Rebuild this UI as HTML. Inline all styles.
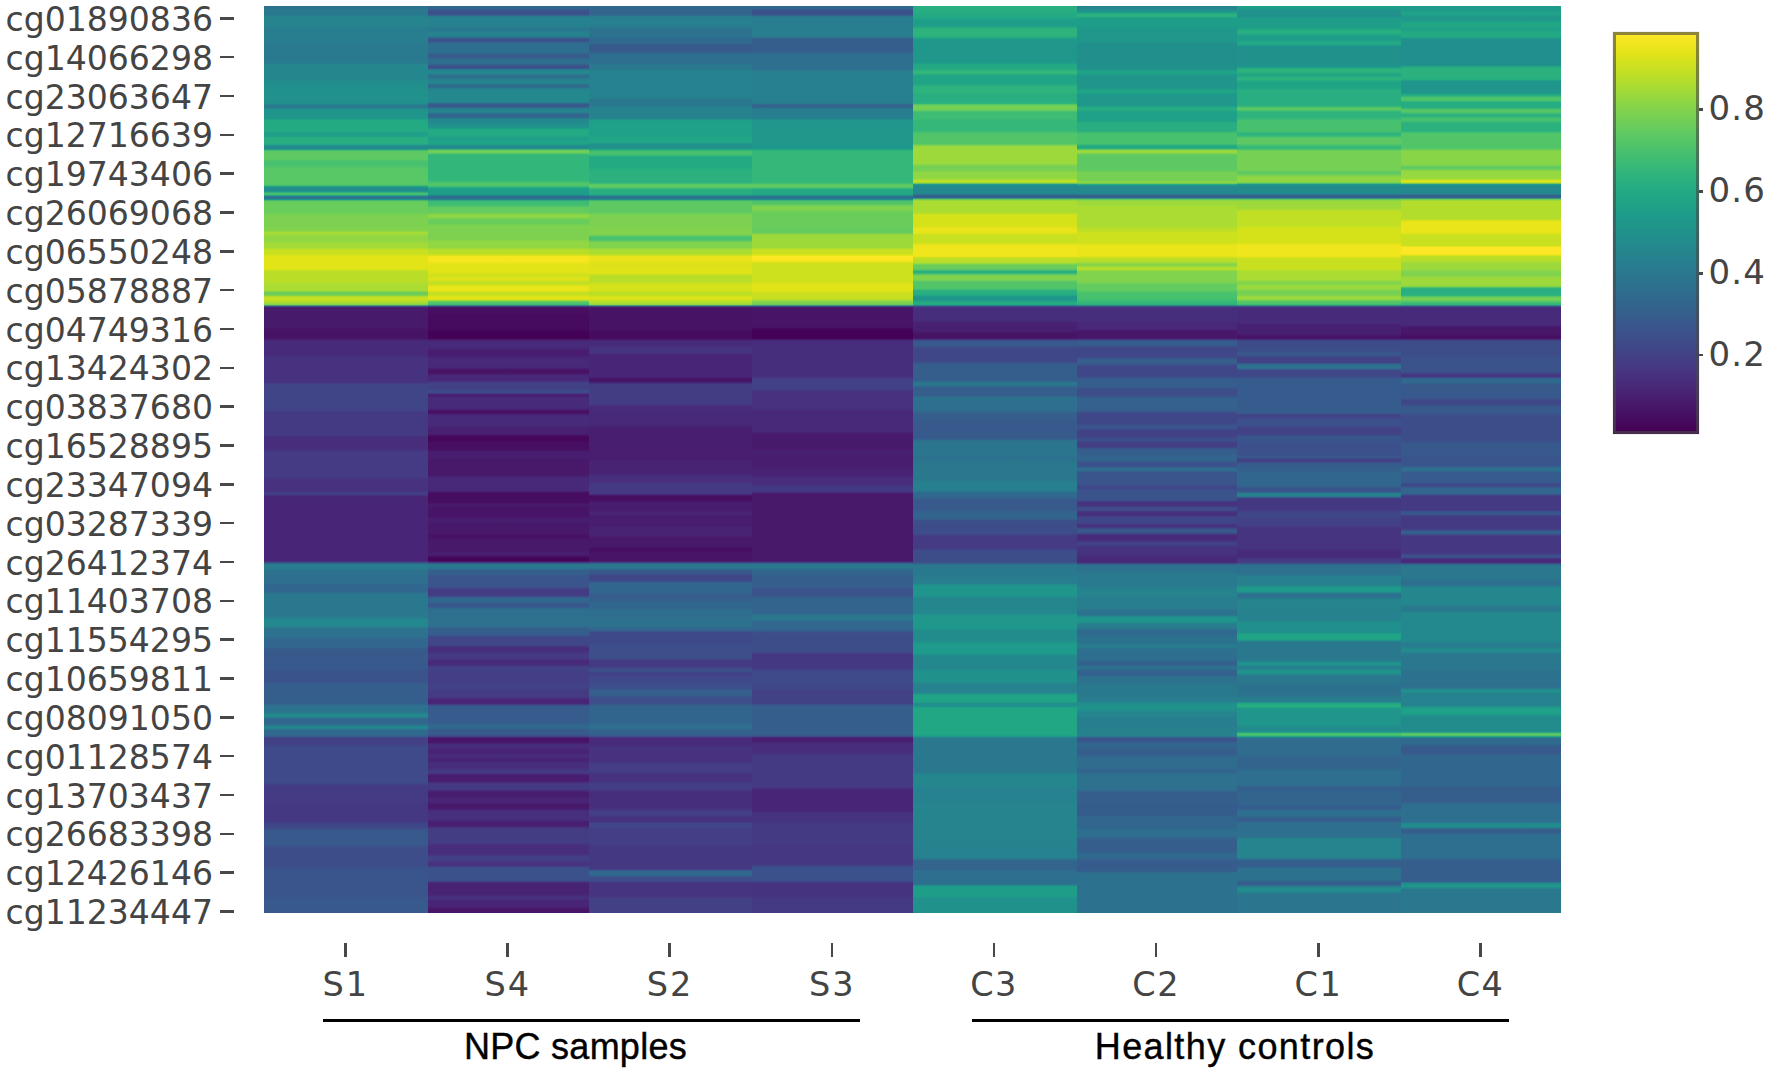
<!DOCTYPE html>
<html><head><meta charset="utf-8"><title>Heatmap</title>
<style>
html,body{margin:0;padding:0;background:#fff;}
body{width:1770px;height:1072px;position:relative;overflow:hidden;font-family:"DejaVu Sans","Liberation Sans",sans-serif;color:#444;}
.hc{position:absolute;top:6.3px;height:906.3px;}
.yl{position:absolute;left:0;width:213px;text-align:right;font-size:33.1px;line-height:40px;height:40px;white-space:nowrap;letter-spacing:0;}
.yt{position:absolute;left:219.5px;width:14.5px;height:2.6px;background:#484848;}
.xt{position:absolute;top:943.3px;width:2.6px;height:14px;background:#484848;}
.xl{position:absolute;top:964.5px;width:120px;text-align:center;font-size:33.5px;line-height:40px;letter-spacing:1.5px;}
.ul{position:absolute;top:1018.6px;height:3px;background:#000;}
.gl{position:absolute;top:1023px;font-family:"Liberation Sans",sans-serif;font-size:36px;line-height:48px;color:#000;white-space:nowrap;text-align:center;-webkit-text-stroke:0.4px #000;}
.cb{position:absolute;left:1613px;top:32px;width:79.5px;height:395.5px;border:3px solid rgba(72,72,72,.62);background:linear-gradient(to top,#440154 3.0px,#471365 22.8px,#482475 42.6px,#463480 62.3px,#414487 82.1px,#3b528b 101.9px,#355f8d 121.6px,#2f6c8e 141.4px,#2a788e 161.2px,#25848e 181.0px,#21918c 200.8px,#1e9c89 220.5px,#22a884 240.3px,#2fb47c 260.1px,#44bf70 279.8px,#5ec962 299.6px,#7ad151 319.4px,#9bd93c 339.2px,#bddf26 358.9px,#dfe318 378.7px,#fde725 398.5px);background-origin:border-box;background-repeat:no-repeat;box-shadow:0 0 1px rgba(75,75,75,.45);}
.ct{position:absolute;left:1698.5px;width:4px;height:2.6px;background:#484848;}
.cl{position:absolute;left:1708.5px;font-size:34px;line-height:40px;letter-spacing:1.2px;}
</style></head><body>

<div class="hc" style="left:264.30px;width:163.90px;background:linear-gradient(to bottom,#2c728e 0.0px,#2c738e 1.5px,#2a768e 3.0px,#2a788e 4.5px,#2a788e 6.0px,#2a788e 7.5px,#287d8e 9.0px,#25838e 10.5px,#25848e 12.0px,#25848e 13.5px,#25848e 15.0px,#25848e 16.5px,#25848e 18.0px,#25848e 19.5px,#26828e 21.0px,#287d8e 22.5px,#287d8e 24.0px,#287d8e 25.5px,#287d8e 27.0px,#287d8e 28.5px,#287d8e 30.0px,#287d8e 31.5px,#287d8e 33.0px,#287d8e 34.5px,#287c8e 36.0px,#297b8e 37.5px,#297a8e 39.0px,#297a8e 40.5px,#297a8e 42.0px,#297a8e 43.5px,#297a8e 45.0px,#297a8e 46.5px,#297a8e 48.0px,#297a8e 49.5px,#297a8e 51.0px,#297a8e 52.5px,#297a8e 54.0px,#297a8e 55.5px,#287d8e 57.0px,#25848e 58.5px,#24878e 60.0px,#24878e 61.5px,#24878e 63.0px,#24878e 64.5px,#24878e 66.0px,#24878e 67.5px,#24878e 69.0px,#24878e 70.5px,#24878e 72.0px,#24878e 73.5px,#228c8d 75.0px,#218e8d 76.5px,#218f8d 78.0px,#218f8d 79.5px,#218f8d 81.0px,#218f8d 82.5px,#21918c 84.0px,#21918c 85.5px,#21918c 87.0px,#21918c 88.5px,#21918c 90.0px,#21918c 91.5px,#21918c 93.0px,#21918c 94.5px,#21918c 96.0px,#228d8d 97.5px,#287c8e 99.0px,#2a788e 100.5px,#287d8e 102.0px,#21918c 103.5px,#1f958b 105.0px,#1f958b 106.5px,#1f958b 108.0px,#1f958b 109.5px,#1f958b 111.0px,#1f998a 112.5px,#21a685 114.0px,#24aa83 115.5px,#24aa83 117.0px,#24aa83 118.5px,#24aa83 120.0px,#24aa83 121.5px,#24aa83 123.0px,#23a983 124.5px,#21a585 126.0px,#1f9e89 127.5px,#1f9e89 129.0px,#20a386 130.5px,#27ad81 132.0px,#28ae80 133.5px,#28ae80 135.0px,#28ae80 136.5px,#25ac82 138.0px,#1f948c 139.5px,#25858e 141.0px,#23888e 142.5px,#2cb17e 144.0px,#5cc863 145.5px,#5ec962 147.0px,#5ec962 148.5px,#5ec962 150.0px,#5ec962 151.5px,#5cc863 153.0px,#50c46a 154.5px,#48c16e 156.0px,#48c16e 157.5px,#48c16e 159.0px,#4ec36b 160.5px,#56c667 162.0px,#58c765 163.5px,#58c765 165.0px,#58c765 166.5px,#58c765 168.0px,#58c765 169.5px,#58c765 171.0px,#58c765 172.5px,#58c765 174.0px,#58c765 175.5px,#58c765 177.0px,#56c667 178.5px,#2db27d 180.0px,#21908d 181.5px,#228c8d 183.0px,#228d8d 184.5px,#1fa287 186.0px,#4cc26c 187.5px,#35b779 189.0px,#297b8e 190.5px,#2e6d8e 192.0px,#20928c 193.5px,#5cc863 195.0px,#69cd5b 196.5px,#69cd5b 198.0px,#69cd5b 199.5px,#69cd5b 201.0px,#69cd5b 202.5px,#69cd5b 204.0px,#69cd5b 205.5px,#6ccd5a 207.0px,#77d153 208.5px,#7cd250 210.0px,#7cd250 211.5px,#7cd250 213.0px,#7cd250 214.5px,#7cd250 216.0px,#7cd250 217.5px,#7cd250 219.0px,#7cd250 220.5px,#81d34d 222.0px,#81d34d 223.5px,#89d548 225.0px,#a5db36 226.5px,#a5db36 228.0px,#95d840 229.5px,#90d743 231.0px,#90d743 232.5px,#90d743 234.0px,#93d741 235.5px,#a0da39 237.0px,#a5db36 238.5px,#a5db36 240.0px,#a5db36 241.5px,#bade28 243.0px,#c8e020 244.5px,#c8e020 246.0px,#c8e020 247.5px,#d2e21b 249.0px,#e2e418 250.5px,#e2e418 252.0px,#e2e418 253.5px,#e2e418 255.0px,#e2e418 256.5px,#e2e418 258.0px,#e2e418 259.5px,#e2e418 261.0px,#e2e418 262.5px,#d2e21b 264.0px,#bade28 265.5px,#bade28 267.0px,#bade28 268.5px,#bade28 270.0px,#bade28 271.5px,#bade28 273.0px,#bade28 274.5px,#b8de29 276.0px,#b0dd2f 277.5px,#aadc32 279.0px,#aadc32 280.5px,#aadc32 282.0px,#aadc32 283.5px,#9dd93b 285.0px,#6ece58 286.5px,#65cb5e 288.0px,#86d549 289.5px,#c2df23 291.0px,#c8e020 292.5px,#c5e021 294.0px,#b2dd2d 295.5px,#a5db36 297.0px,#86d549 298.5px,#2d718e 300.0px,#481d6f 301.5px,#481a6c 303.0px,#481a6c 304.5px,#481a6c 306.0px,#481a6c 307.5px,#481a6c 309.0px,#481a6c 310.5px,#481a6c 312.0px,#481a6c 313.5px,#481a6c 315.0px,#481a6c 316.5px,#481a6c 318.0px,#481a6c 319.5px,#481a6c 321.0px,#481668 322.5px,#471365 324.0px,#471365 325.5px,#471365 327.0px,#471365 328.5px,#471365 330.0px,#471365 331.5px,#481769 333.0px,#482677 334.5px,#472a7a 336.0px,#472a7a 337.5px,#472a7a 339.0px,#472a7a 340.5px,#472a7a 342.0px,#472a7a 343.5px,#472a7a 345.0px,#472a7a 346.5px,#472a7a 348.0px,#472c7a 349.5px,#46307e 351.0px,#46327e 352.5px,#46327e 354.0px,#46327e 355.5px,#46327e 357.0px,#46327e 358.5px,#46327e 360.0px,#46327e 361.5px,#46327e 363.0px,#46327e 364.5px,#46327e 366.0px,#46327e 367.5px,#46327e 369.0px,#46327e 370.5px,#46327e 372.0px,#46327e 373.5px,#46327e 375.0px,#463480 376.5px,#424186 378.0px,#404588 379.5px,#404588 381.0px,#404588 382.5px,#404588 384.0px,#404588 385.5px,#404588 387.0px,#404588 388.5px,#404588 390.0px,#404588 391.5px,#404588 393.0px,#404588 394.5px,#404588 396.0px,#404588 397.5px,#404588 399.0px,#404588 400.5px,#404588 402.0px,#414487 403.5px,#424086 405.0px,#443a83 406.5px,#443983 408.0px,#443983 409.5px,#443983 411.0px,#443983 412.5px,#443983 414.0px,#443983 415.5px,#443983 417.0px,#443983 418.5px,#443983 420.0px,#443983 421.5px,#443983 423.0px,#443983 424.5px,#443983 426.0px,#443983 427.5px,#443983 429.0px,#46327e 430.5px,#472d7b 432.0px,#472d7b 433.5px,#472d7b 435.0px,#472d7b 436.5px,#472d7b 438.0px,#472d7b 439.5px,#472d7b 441.0px,#472d7b 442.5px,#46327e 444.0px,#443a83 445.5px,#443b84 447.0px,#443b84 448.5px,#443b84 450.0px,#443b84 451.5px,#443b84 453.0px,#443b84 454.5px,#443b84 456.0px,#443b84 457.5px,#443b84 459.0px,#443b84 460.5px,#443b84 462.0px,#443b84 463.5px,#443b84 465.0px,#443b84 466.5px,#443b84 468.0px,#443b84 469.5px,#443a83 471.0px,#453581 472.5px,#46327e 474.0px,#46327e 475.5px,#46327e 477.0px,#46327e 478.5px,#46327e 480.0px,#46327e 481.5px,#46327e 483.0px,#46327e 484.5px,#453882 486.0px,#424086 487.5px,#453781 489.0px,#482878 490.5px,#482576 492.0px,#482576 493.5px,#482576 495.0px,#482576 496.5px,#482576 498.0px,#482576 499.5px,#482576 501.0px,#482576 502.5px,#482576 504.0px,#482576 505.5px,#482576 507.0px,#482576 508.5px,#482576 510.0px,#482576 511.5px,#482576 513.0px,#482576 514.5px,#482576 516.0px,#482576 517.5px,#482576 519.0px,#482576 520.5px,#482576 522.0px,#482576 523.5px,#482576 525.0px,#482576 526.5px,#482576 528.0px,#482576 529.5px,#482576 531.0px,#482576 532.5px,#482576 534.0px,#482576 535.5px,#482576 537.0px,#482576 538.5px,#482576 540.0px,#482576 541.5px,#482576 543.0px,#482576 544.5px,#482576 546.0px,#482576 547.5px,#482576 549.0px,#482576 550.5px,#482576 552.0px,#482576 553.5px,#482878 555.0px,#3e4a89 556.5px,#29798e 558.0px,#287d8e 559.5px,#287d8e 561.0px,#297b8e 562.5px,#2b748e 564.0px,#2c728e 565.5px,#2c728e 567.0px,#2c728e 568.5px,#2e6f8e 570.0px,#2e6e8e 571.5px,#2e6e8e 573.0px,#2e6e8e 574.5px,#2e6e8e 576.0px,#2e6d8e 577.5px,#31688e 579.0px,#31668e 580.5px,#31668e 582.0px,#31668e 583.5px,#31668e 585.0px,#2e6d8e 586.5px,#2a778e 588.0px,#2a788e 589.5px,#2a788e 591.0px,#2a788e 592.5px,#2a788e 594.0px,#2a788e 595.5px,#2a788e 597.0px,#2a788e 598.5px,#2a788e 600.0px,#2a788e 601.5px,#2a788e 603.0px,#2a788e 604.5px,#2a788e 606.0px,#2a788e 607.5px,#2a788e 609.0px,#2a788e 610.5px,#277f8e 612.0px,#23888e 613.5px,#23898e 615.0px,#23898e 616.5px,#23898e 618.0px,#23898e 619.5px,#26818e 621.0px,#2b748e 622.5px,#2c728e 624.0px,#2c728e 625.5px,#2c728e 627.0px,#2c728e 628.5px,#2c728e 630.0px,#2e6e8e 631.5px,#31678e 633.0px,#31668e 634.5px,#31668e 636.0px,#31668e 637.5px,#31668e 639.0px,#31668e 640.5px,#34618d 642.0px,#375a8c 643.5px,#38598c 645.0px,#38598c 646.5px,#38598c 648.0px,#38598c 649.5px,#38598c 651.0px,#38598c 652.5px,#38598c 654.0px,#38598c 655.5px,#38598c 657.0px,#38598c 658.5px,#38598c 660.0px,#38598c 661.5px,#38588c 663.0px,#3a548c 664.5px,#3a538b 666.0px,#3a538b 667.5px,#3a538b 669.0px,#3a538b 670.5px,#3a538b 672.0px,#3a538b 673.5px,#3a538b 675.0px,#39558c 676.5px,#365d8d 678.0px,#355e8d 679.5px,#355e8d 681.0px,#355e8d 682.5px,#355e8d 684.0px,#355e8d 685.5px,#355e8d 687.0px,#355e8d 688.5px,#355e8d 690.0px,#355e8d 691.5px,#355e8d 693.0px,#355e8d 694.5px,#355e8d 696.0px,#34608d 697.5px,#2f6c8e 699.0px,#2c728e 700.5px,#2c728e 702.0px,#2c728e 703.5px,#2c738e 705.0px,#2a778e 706.5px,#24878e 708.0px,#228c8d 709.5px,#25858e 711.0px,#2e6d8e 712.5px,#31668e 714.0px,#31668e 715.5px,#31668e 717.0px,#2f6c8e 718.5px,#26828e 720.0px,#24868e 721.5px,#287c8e 723.0px,#2f6b8e 724.5px,#30698e 726.0px,#30698e 727.5px,#31688e 729.0px,#375b8d 730.5px,#414487 732.0px,#424186 733.5px,#424186 735.0px,#424186 736.5px,#424186 738.0px,#404588 739.5px,#3e4989 741.0px,#3e4a89 742.5px,#3e4a89 744.0px,#3e4a89 745.5px,#3e4a89 747.0px,#3e4a89 748.5px,#3e4a89 750.0px,#3e4a89 751.5px,#3e4a89 753.0px,#3e4a89 754.5px,#3e4a89 756.0px,#3e4a89 757.5px,#3e4a89 759.0px,#3e4a89 760.5px,#3e4a89 762.0px,#3e4a89 763.5px,#3e4a89 765.0px,#3e4a89 766.5px,#3e4a89 768.0px,#3e4a89 769.5px,#3e4a89 771.0px,#3e4a89 772.5px,#3e4a89 774.0px,#3e4a89 775.5px,#3e4989 777.0px,#424186 778.5px,#443b84 780.0px,#443b84 781.5px,#443b84 783.0px,#443b84 784.5px,#443b84 786.0px,#443b84 787.5px,#443b84 789.0px,#443b84 790.5px,#443b84 792.0px,#443b84 793.5px,#443b84 795.0px,#443a83 796.5px,#453882 798.0px,#453882 799.5px,#453882 801.0px,#453882 802.5px,#453882 804.0px,#453882 805.5px,#453882 807.0px,#453882 808.5px,#453882 810.0px,#453882 811.5px,#453882 813.0px,#453882 814.5px,#443a83 816.0px,#404588 817.5px,#3f4788 819.0px,#3f4788 820.5px,#3f4889 822.0px,#3b528b 823.5px,#38598c 825.0px,#38598c 826.5px,#38598c 828.0px,#38598c 829.5px,#38598c 831.0px,#38598c 832.5px,#38598c 834.0px,#38598c 835.5px,#38598c 837.0px,#38598c 838.5px,#3a548c 840.0px,#3d4e8a 841.5px,#3d4d8a 843.0px,#3d4d8a 844.5px,#3d4d8a 846.0px,#3d4d8a 847.5px,#3d4d8a 849.0px,#3d4d8a 850.5px,#3d4d8a 852.0px,#3d4d8a 853.5px,#3d4d8a 855.0px,#3d4d8a 856.5px,#3d4d8a 858.0px,#3d4d8a 859.5px,#3c4f8a 861.0px,#3a548c 862.5px,#39558c 864.0px,#39558c 865.5px,#39558c 867.0px,#39558c 868.5px,#39558c 870.0px,#39558c 871.5px,#39558c 873.0px,#39558c 874.5px,#39558c 876.0px,#39558c 877.5px,#39558c 879.0px,#39558c 880.5px,#39558c 882.0px,#39558c 883.5px,#39558c 885.0px,#39558c 886.5px,#39558c 888.0px,#39558c 889.5px,#39568c 891.0px,#38598c 892.5px,#38598c 894.0px,#38598c 895.5px,#38598c 897.0px,#38598c 898.5px,#38598c 900.0px,#38598c 901.5px,#38598c 903.0px,#38598c 904.5px,#38598c 906.0px,#38598c 907.5px)"></div>
<div class="hc" style="left:427.60px;width:161.50px;background:linear-gradient(to bottom,#31668e 0.0px,#31668e 1.5px,#33638d 3.0px,#3a548c 4.5px,#3c508b 6.0px,#3c508b 7.5px,#375a8c 9.0px,#297a8e 10.5px,#26828e 12.0px,#26828e 13.5px,#26828e 15.0px,#26828e 16.5px,#26828e 18.0px,#26828e 19.5px,#277e8e 21.0px,#2a788e 22.5px,#2a788e 24.0px,#277e8e 25.5px,#26828e 27.0px,#26828e 28.5px,#26828e 30.0px,#2d708e 31.5px,#3a538b 33.0px,#3b518b 34.5px,#365c8d 36.0px,#2e6d8e 37.5px,#2e6e8e 39.0px,#2e6e8e 40.5px,#2e6e8e 42.0px,#2e6e8e 43.5px,#2e6e8e 45.0px,#2e6d8e 46.5px,#34618d 48.0px,#38598c 49.5px,#375a8c 51.0px,#31668e 52.5px,#2e6e8e 54.0px,#2e6e8e 55.5px,#2e6e8e 57.0px,#33638d 58.5px,#3b528b 60.0px,#3b518b 61.5px,#31678e 63.0px,#24868e 64.5px,#23898e 66.0px,#25848e 67.5px,#2c728e 69.0px,#2e6e8e 70.5px,#2c718e 72.0px,#26818e 73.5px,#25848e 75.0px,#25848e 76.5px,#297a8e 78.0px,#2f6b8e 79.5px,#2f6b8e 81.0px,#287d8e 82.5px,#23898e 84.0px,#23898e 85.5px,#23898e 87.0px,#23898e 88.5px,#23898e 90.0px,#23898e 91.5px,#23898e 93.0px,#23898e 94.5px,#24868e 96.0px,#306a8e 97.5px,#39568c 99.0px,#38598c 100.5px,#2c738e 102.0px,#25838e 103.5px,#25848e 105.0px,#277f8e 106.5px,#30698e 108.0px,#32648e 109.5px,#31668e 111.0px,#297b8e 112.5px,#23898e 114.0px,#23898e 115.5px,#228b8d 117.0px,#21908d 118.5px,#21918c 120.0px,#1f958b 121.5px,#21a585 123.0px,#24aa83 124.5px,#24aa83 126.0px,#24aa83 127.5px,#23a983 129.0px,#21a585 130.5px,#1f9e89 132.0px,#1f9e89 133.5px,#1fa187 135.0px,#20a486 136.5px,#1fa287 138.0px,#21918c 139.5px,#25858e 141.0px,#20928c 142.5px,#54c568 144.0px,#75d054 145.5px,#67cc5c 147.0px,#3bbb75 148.5px,#32b67a 150.0px,#32b67a 151.5px,#32b67a 153.0px,#32b67a 154.5px,#32b67a 156.0px,#32b67a 157.5px,#32b67a 159.0px,#32b67a 160.5px,#32b67a 162.0px,#32b67a 163.5px,#32b67a 165.0px,#32b67a 166.5px,#32b67a 168.0px,#32b67a 169.5px,#32b67a 171.0px,#32b67a 172.5px,#32b67a 174.0px,#3dbc74 175.5px,#50c46a 177.0px,#52c569 178.5px,#4ec36b 180.0px,#26ad81 181.5px,#1f9e89 183.0px,#1e9d89 184.5px,#1e9d89 186.0px,#1e9d89 187.5px,#20938c 189.0px,#2d708e 190.5px,#31688e 192.0px,#24878e 193.5px,#37b878 195.0px,#3fbc73 196.5px,#3fbc73 198.0px,#44bf70 199.5px,#5cc863 201.0px,#63cb5f 202.5px,#63cb5f 204.0px,#63cb5f 205.5px,#69cd5b 207.0px,#89d548 208.5px,#90d743 210.0px,#89d548 211.5px,#70cf57 213.0px,#69cd5b 214.5px,#69cd5b 216.0px,#69cd5b 217.5px,#77d153 219.0px,#81d34d 220.5px,#7cd250 222.0px,#7cd250 223.5px,#7cd250 225.0px,#7cd250 226.5px,#7cd250 228.0px,#7cd250 229.5px,#7cd250 231.0px,#7cd250 232.5px,#84d44b 234.0px,#8ed645 235.5px,#90d743 237.0px,#90d743 238.5px,#90d743 240.0px,#93d741 241.5px,#aadc32 243.0px,#b8de29 244.5px,#bade28 246.0px,#bade28 247.5px,#d0e11c 249.0px,#f4e61e 250.5px,#f6e620 252.0px,#f6e620 253.5px,#f6e620 255.0px,#efe51c 256.5px,#e5e419 258.0px,#e2e418 259.5px,#e2e418 261.0px,#e2e418 262.5px,#e2e418 264.0px,#e2e418 265.5px,#dae319 267.0px,#d0e11c 268.5px,#d0e11c 270.0px,#d5e21a 271.5px,#e2e418 273.0px,#d5e21a 274.5px,#c2df23 276.0px,#c0df25 277.5px,#d0e11c 279.0px,#e7e419 280.5px,#eae51a 282.0px,#eae51a 283.5px,#e2e418 285.0px,#c8e020 286.5px,#c0df25 288.0px,#cde11d 289.5px,#e2e418 291.0px,#e2e418 292.5px,#cae11f 294.0px,#67cc5c 295.5px,#52c569 297.0px,#3fbc73 298.5px,#355f8d 300.0px,#471365 301.5px,#470e61 303.0px,#470e61 304.5px,#470e61 306.0px,#470d60 307.5px,#460b5e 309.0px,#460b5e 310.5px,#460b5e 312.0px,#460b5e 313.5px,#460b5e 315.0px,#460b5e 316.5px,#460b5e 318.0px,#460b5e 319.5px,#460b5e 321.0px,#460b5e 322.5px,#46085c 324.0px,#450457 325.5px,#440256 327.0px,#440256 328.5px,#440256 330.0px,#440256 331.5px,#460a5d 333.0px,#482475 334.5px,#472a7a 336.0px,#472a7a 337.5px,#472a7a 339.0px,#472a7a 340.5px,#482979 342.0px,#482071 343.5px,#481d6f 345.0px,#481d6f 346.5px,#481d6f 348.0px,#481f70 349.5px,#482576 351.0px,#482878 352.5px,#482878 354.0px,#482878 355.5px,#482878 357.0px,#482878 358.5px,#482878 360.0px,#482677 361.5px,#481b6d 363.0px,#471365 364.5px,#471365 366.0px,#481769 367.5px,#482475 369.0px,#482878 370.5px,#482878 372.0px,#482878 373.5px,#472c7a 375.0px,#433d84 376.5px,#424186 378.0px,#424186 379.5px,#424186 381.0px,#424186 382.5px,#404688 384.0px,#3d4d8a 385.5px,#404588 387.0px,#482374 388.5px,#481d6f 390.0px,#482878 391.5px,#472a7a 393.0px,#472a7a 394.5px,#472a7a 396.0px,#472a7a 397.5px,#472a7a 399.0px,#472a7a 400.5px,#472a7a 402.0px,#482071 403.5px,#471063 405.0px,#471063 406.5px,#481a6c 408.0px,#482979 409.5px,#472a7a 411.0px,#472a7a 412.5px,#472a7a 414.0px,#472a7a 415.5px,#472a7a 417.0px,#472a7a 418.5px,#482979 420.0px,#482374 421.5px,#482173 423.0px,#482071 424.5px,#482071 426.0px,#482071 427.5px,#48186a 429.0px,#46085c 430.5px,#46075a 432.0px,#46075a 433.5px,#46085c 435.0px,#470d60 436.5px,#470e61 438.0px,#470e61 439.5px,#470e61 441.0px,#470e61 442.5px,#471164 444.0px,#481b6d 445.5px,#481d6f 447.0px,#481d6f 448.5px,#481f70 450.0px,#481d6f 451.5px,#481a6c 453.0px,#48186a 454.5px,#48186a 456.0px,#48186a 457.5px,#48186a 459.0px,#48186a 460.5px,#48186a 462.0px,#48186a 463.5px,#48186a 465.0px,#48186a 466.5px,#48186a 468.0px,#481a6c 469.5px,#482374 471.0px,#482979 472.5px,#482979 474.0px,#482979 475.5px,#482979 477.0px,#482979 478.5px,#482979 480.0px,#482979 481.5px,#482979 483.0px,#482878 484.5px,#48186a 486.0px,#470d60 487.5px,#470d60 489.0px,#470d60 490.5px,#470d60 492.0px,#470d60 493.5px,#470d60 495.0px,#470e61 496.5px,#48186a 498.0px,#481b6d 499.5px,#481668 501.0px,#481467 502.5px,#481467 504.0px,#481467 505.5px,#481467 507.0px,#481467 508.5px,#481467 510.0px,#48186a 511.5px,#481f70 513.0px,#481f70 514.5px,#481b6d 516.0px,#48186a 517.5px,#48186a 519.0px,#48186a 520.5px,#48186a 522.0px,#48186a 523.5px,#48186a 525.0px,#48186a 526.5px,#481769 528.0px,#471164 529.5px,#471164 531.0px,#481467 532.5px,#48186a 534.0px,#48186a 535.5px,#48186a 537.0px,#48186a 538.5px,#48186a 540.0px,#48186a 541.5px,#48186a 543.0px,#48186a 544.5px,#481c6e 546.0px,#481f70 547.5px,#481d6f 549.0px,#471063 550.5px,#450559 552.0px,#450559 553.5px,#46075a 555.0px,#453781 556.5px,#2c728e 558.0px,#2a788e 559.5px,#2a788e 561.0px,#2c738e 562.5px,#33638d 564.0px,#355e8d 565.5px,#355e8d 567.0px,#365d8d 568.5px,#38588c 570.0px,#39558c 571.5px,#39558c 573.0px,#39558c 574.5px,#39558c 576.0px,#39558c 577.5px,#39558c 579.0px,#39558c 580.5px,#3e4c8a 582.0px,#433d84 583.5px,#443b84 585.0px,#443b84 586.5px,#443b84 588.0px,#433e85 589.5px,#39568c 591.0px,#31668e 592.5px,#31668e 594.0px,#31668e 595.5px,#34608d 597.0px,#39568c 598.5px,#39568c 600.0px,#355f8d 601.5px,#2e6d8e 603.0px,#2e6e8e 604.5px,#2e6e8e 606.0px,#2e6f8e 607.5px,#2d708e 609.0px,#2d718e 610.5px,#2d718e 612.0px,#2d718e 613.5px,#2d718e 615.0px,#2d718e 616.5px,#2d718e 618.0px,#2d718e 619.5px,#306a8e 621.0px,#355f8d 622.5px,#355e8d 624.0px,#355e8d 625.5px,#355e8d 627.0px,#365d8d 628.5px,#3c508b 630.0px,#3f4788 631.5px,#3f4788 633.0px,#3f4788 634.5px,#3f4788 636.0px,#3f4788 637.5px,#404688 639.0px,#453882 640.5px,#472e7c 642.0px,#472e7c 643.5px,#472e7c 645.0px,#46337f 646.5px,#443a83 648.0px,#443b84 649.5px,#443b84 651.0px,#453882 652.5px,#472e7c 654.0px,#472a7a 655.5px,#472a7a 657.0px,#472c7a 658.5px,#443983 660.0px,#424186 661.5px,#424186 663.0px,#424186 664.5px,#424086 666.0px,#433e85 667.5px,#433e85 669.0px,#433e85 670.5px,#433e85 672.0px,#433e85 673.5px,#433e85 675.0px,#423f85 676.5px,#424086 678.0px,#424186 679.5px,#424186 681.0px,#424186 682.5px,#433e85 684.0px,#443b84 685.5px,#443b84 687.0px,#443b84 688.5px,#443b84 690.0px,#453781 691.5px,#482878 693.0px,#482475 694.5px,#482475 696.0px,#482878 697.5px,#3f4889 699.0px,#375b8d 700.5px,#365c8d 702.0px,#365c8d 703.5px,#365c8d 705.0px,#365c8d 706.5px,#365c8d 708.0px,#365c8d 709.5px,#365c8d 711.0px,#365c8d 712.5px,#365c8d 714.0px,#365c8d 715.5px,#365c8d 717.0px,#32648e 718.5px,#30698e 720.0px,#30698e 721.5px,#33638d 723.0px,#375a8c 724.5px,#38598c 726.0px,#38598c 727.5px,#38588c 729.0px,#424186 730.5px,#48186a 732.0px,#481467 733.5px,#481467 735.0px,#48186a 736.5px,#482979 738.0px,#472d7b 739.5px,#472d7b 741.0px,#482979 742.5px,#482374 744.0px,#482374 745.5px,#482374 747.0px,#472a7a 748.5px,#472f7d 750.0px,#482878 751.5px,#482374 753.0px,#482374 754.5px,#482979 756.0px,#472d7b 757.5px,#472d7b 759.0px,#472d7b 760.5px,#472d7b 762.0px,#463480 763.5px,#443983 765.0px,#443983 766.5px,#472e7c 768.0px,#481d6f 769.5px,#481c6e 771.0px,#481c6e 772.5px,#481c6e 774.0px,#482173 775.5px,#463480 777.0px,#443983 778.5px,#443983 780.0px,#443983 781.5px,#443983 783.0px,#472e7c 784.5px,#481d6f 786.0px,#481c6e 787.5px,#481c6e 789.0px,#481d6f 790.5px,#482475 792.0px,#482576 793.5px,#482576 795.0px,#482475 796.5px,#481b6d 798.0px,#48186a 799.5px,#48186a 801.0px,#481a6c 802.5px,#482677 804.0px,#472f7d 805.5px,#472f7d 807.0px,#472f7d 808.5px,#472f7d 810.0px,#472f7d 811.5px,#472f7d 813.0px,#482979 814.5px,#482071 816.0px,#481f70 817.5px,#481f70 819.0px,#482475 820.5px,#453882 822.0px,#433d84 823.5px,#433d84 825.0px,#433d84 826.5px,#433d84 828.0px,#433d84 829.5px,#433d84 831.0px,#433d84 832.5px,#433d84 834.0px,#433d84 835.5px,#443b84 837.0px,#46337f 838.5px,#472d7b 840.0px,#472d7b 841.5px,#472d7b 843.0px,#472d7b 844.5px,#472d7b 846.0px,#472d7b 847.5px,#463480 849.0px,#423f85 850.5px,#424086 852.0px,#423f85 853.5px,#443b84 855.0px,#463480 856.5px,#46337f 858.0px,#463480 859.5px,#3f4788 861.0px,#3b518b 862.5px,#3b518b 864.0px,#3b518b 865.5px,#3b518b 867.0px,#3b518b 868.5px,#3b518b 870.0px,#3b518b 871.5px,#3b518b 873.0px,#3c4f8a 874.5px,#453581 876.0px,#482374 877.5px,#482374 879.0px,#482374 880.5px,#482374 882.0px,#482374 883.5px,#482374 885.0px,#482374 886.5px,#482374 888.0px,#482979 889.5px,#46327e 891.0px,#46307e 892.5px,#482878 894.0px,#482576 895.5px,#482576 897.0px,#482576 898.5px,#482576 900.0px,#481f70 901.5px,#481668 903.0px,#481467 904.5px,#481467 906.0px,#481467 907.5px)"></div>
<div class="hc" style="left:588.50px;width:163.90px;background:linear-gradient(to bottom,#31668e 0.0px,#31668e 1.5px,#31668e 3.0px,#32648e 4.5px,#32648e 6.0px,#32648e 7.5px,#30698e 9.0px,#297b8e 10.5px,#27808e 12.0px,#27808e 13.5px,#27808e 15.0px,#27808e 16.5px,#27808e 18.0px,#277f8e 19.5px,#297b8e 21.0px,#2c738e 22.5px,#2c728e 24.0px,#2c728e 25.5px,#2c728e 27.0px,#2c728e 28.5px,#2c728e 30.0px,#2e6f8e 31.5px,#30698e 33.0px,#30698e 34.5px,#30698e 36.0px,#31668e 37.5px,#365c8d 39.0px,#38598c 40.5px,#38598c 42.0px,#38598c 43.5px,#38598c 45.0px,#34618d 46.5px,#2e6d8e 48.0px,#2e6e8e 49.5px,#2e6e8e 51.0px,#2e6e8e 52.5px,#2e6e8e 54.0px,#2e6e8e 55.5px,#2d708e 57.0px,#2a768e 58.5px,#2a788e 60.0px,#2a788e 61.5px,#2a788e 63.0px,#277e8e 64.5px,#26828e 66.0px,#26828e 67.5px,#26828e 69.0px,#26828e 70.5px,#26828e 72.0px,#26828e 73.5px,#26828e 75.0px,#26828e 76.5px,#26828e 78.0px,#26828e 79.5px,#26828e 81.0px,#26828e 82.5px,#26828e 84.0px,#26828e 85.5px,#26828e 87.0px,#26828e 88.5px,#26828e 90.0px,#26818e 91.5px,#297a8e 93.0px,#2a788e 94.5px,#2a788e 96.0px,#2a788e 97.5px,#2a788e 99.0px,#287c8e 100.5px,#26828e 102.0px,#26828e 103.5px,#26828e 105.0px,#26828e 106.5px,#26828e 108.0px,#26828e 109.5px,#26828e 111.0px,#24878e 112.5px,#1e9b8a 114.0px,#1fa088 115.5px,#1fa088 117.0px,#1fa088 118.5px,#1fa088 120.0px,#1fa088 121.5px,#1fa088 123.0px,#1fa088 124.5px,#1fa088 126.0px,#1fa088 127.5px,#1fa088 129.0px,#1fa287 130.5px,#21a685 132.0px,#22a785 133.5px,#22a785 135.0px,#20a386 136.5px,#1f948c 138.0px,#21918c 139.5px,#21918c 141.0px,#20938c 142.5px,#29af7f 144.0px,#46c06f 145.5px,#48c16e 147.0px,#46c06f 148.5px,#2db27d 150.0px,#24aa83 151.5px,#24aa83 153.0px,#24aa83 154.5px,#24aa83 156.0px,#24aa83 157.5px,#24aa83 159.0px,#24aa83 160.5px,#25ab82 162.0px,#29af7f 163.5px,#2ab07f 165.0px,#2cb17e 166.5px,#2cb17e 168.0px,#2cb17e 169.5px,#2cb17e 171.0px,#2cb17e 172.5px,#2cb17e 174.0px,#2cb17e 175.5px,#32b67a 177.0px,#58c765 178.5px,#63cb5f 180.0px,#56c667 181.5px,#2fb47c 183.0px,#28ae80 184.5px,#28ae80 186.0px,#28ae80 187.5px,#20a386 189.0px,#2a778e 190.5px,#2e6d8e 192.0px,#21908d 193.5px,#52c569 195.0px,#5ec962 196.5px,#5ec962 198.0px,#5ec962 199.5px,#5ec962 201.0px,#5ec962 202.5px,#5ec962 204.0px,#5ec962 205.5px,#63cb5f 207.0px,#77d153 208.5px,#7cd250 210.0px,#7cd250 211.5px,#7cd250 213.0px,#7cd250 214.5px,#7cd250 216.0px,#7cd250 217.5px,#7cd250 219.0px,#7cd250 220.5px,#81d34d 222.0px,#81d34d 223.5px,#81d34d 225.0px,#81d34d 226.5px,#81d34d 228.0px,#6ccd5a 229.5px,#4ac16d 231.0px,#48c16e 232.5px,#4ac16d 234.0px,#6ccd5a 235.5px,#81d34d 237.0px,#81d34d 238.5px,#81d34d 240.0px,#84d44b 241.5px,#9bd93c 243.0px,#aadc32 244.5px,#aadc32 246.0px,#addc30 247.5px,#c2df23 249.0px,#e7e419 250.5px,#eae51a 252.0px,#eae51a 253.5px,#e7e419 255.0px,#dfe318 256.5px,#dde318 258.0px,#dde318 259.5px,#dde318 261.0px,#dde318 262.5px,#dfe318 264.0px,#e2e418 265.5px,#e2e418 267.0px,#cae11f 268.5px,#bade28 270.0px,#bade28 271.5px,#bade28 273.0px,#bade28 274.5px,#bade28 276.0px,#cae11f 277.5px,#d5e21a 279.0px,#d5e21a 280.5px,#d5e21a 282.0px,#d5e21a 283.5px,#d0e11c 285.0px,#bddf26 286.5px,#bade28 288.0px,#c8e020 289.5px,#dae319 291.0px,#dde318 292.5px,#cde11d 294.0px,#b5de2b 295.5px,#b2dd2d 297.0px,#93d741 298.5px,#2e6f8e 300.0px,#481769 301.5px,#471365 303.0px,#471365 304.5px,#471365 306.0px,#471365 307.5px,#471365 309.0px,#471365 310.5px,#471365 312.0px,#471365 313.5px,#471365 315.0px,#471365 316.5px,#471365 318.0px,#471365 319.5px,#471365 321.0px,#471365 322.5px,#471063 324.0px,#460b5e 325.5px,#460b5e 327.0px,#460b5e 328.5px,#460b5e 330.0px,#460b5e 331.5px,#471164 333.0px,#482576 334.5px,#472a7a 336.0px,#472a7a 337.5px,#472a7a 339.0px,#472d7b 340.5px,#46337f 342.0px,#463480 343.5px,#463480 345.0px,#463480 346.5px,#472c7a 348.0px,#482677 349.5px,#482576 351.0px,#482576 352.5px,#482576 354.0px,#482576 355.5px,#482576 357.0px,#482576 358.5px,#482576 360.0px,#482576 361.5px,#482576 363.0px,#482576 364.5px,#482576 366.0px,#482576 367.5px,#482576 369.0px,#482576 370.5px,#481a6c 372.0px,#471365 373.5px,#471365 375.0px,#482374 376.5px,#443a83 378.0px,#433d84 379.5px,#433d84 381.0px,#433d84 382.5px,#433d84 384.0px,#433d84 385.5px,#433d84 387.0px,#433d84 388.5px,#433d84 390.0px,#433d84 391.5px,#433d84 393.0px,#433d84 394.5px,#433d84 396.0px,#433d84 397.5px,#453581 399.0px,#472c7a 400.5px,#472a7a 402.0px,#472a7a 403.5px,#472a7a 405.0px,#472a7a 406.5px,#482979 408.0px,#482878 409.5px,#482878 411.0px,#482878 412.5px,#482878 414.0px,#482878 415.5px,#482878 417.0px,#482878 418.5px,#482677 420.0px,#482071 421.5px,#481f70 423.0px,#481f70 424.5px,#481f70 426.0px,#481f70 427.5px,#481f70 429.0px,#481f70 430.5px,#481f70 432.0px,#481f70 433.5px,#481f70 435.0px,#481f70 436.5px,#481f70 438.0px,#481f70 439.5px,#481f70 441.0px,#481f70 442.5px,#481f70 444.0px,#481f70 445.5px,#481f70 447.0px,#481f70 448.5px,#481c6e 450.0px,#481c6e 451.5px,#481c6e 453.0px,#482173 454.5px,#482374 456.0px,#482374 457.5px,#482374 459.0px,#482374 460.5px,#482374 462.0px,#482374 463.5px,#482374 465.0px,#482374 466.5px,#482576 468.0px,#472e7c 469.5px,#472f7d 471.0px,#472f7d 472.5px,#472f7d 474.0px,#472f7d 475.5px,#46337f 477.0px,#443983 478.5px,#443983 480.0px,#443983 481.5px,#443983 483.0px,#443983 484.5px,#443983 486.0px,#453781 487.5px,#481f70 489.0px,#470d60 490.5px,#470d60 492.0px,#470d60 493.5px,#471365 495.0px,#481b6d 496.5px,#481c6e 498.0px,#481c6e 499.5px,#481c6e 501.0px,#481c6e 502.5px,#481c6e 504.0px,#482173 505.5px,#482576 507.0px,#482475 508.5px,#481d6f 510.0px,#481c6e 511.5px,#481c6e 513.0px,#481c6e 514.5px,#481c6e 516.0px,#481c6e 517.5px,#481c6e 519.0px,#482071 520.5px,#482374 522.0px,#482374 523.5px,#482374 525.0px,#482374 526.5px,#482374 528.0px,#482173 529.5px,#481c6e 531.0px,#48186a 532.5px,#48186a 534.0px,#48186a 535.5px,#48186a 537.0px,#48186a 538.5px,#48186a 540.0px,#481467 541.5px,#470d60 543.0px,#470d60 544.5px,#471164 546.0px,#481467 547.5px,#481467 549.0px,#481467 550.5px,#481467 552.0px,#481467 553.5px,#481668 555.0px,#433e85 556.5px,#2c738e 558.0px,#2a788e 559.5px,#2a788e 561.0px,#2c728e 562.5px,#355e8d 564.0px,#38598c 565.5px,#38588c 567.0px,#3d4e8a 568.5px,#3f4788 570.0px,#3f4788 571.5px,#3f4788 573.0px,#3e4989 574.5px,#375b8d 576.0px,#31668e 577.5px,#31668e 579.0px,#31668e 580.5px,#31668e 582.0px,#31668e 583.5px,#31668e 585.0px,#33638d 586.5px,#355f8d 588.0px,#355e8d 589.5px,#355e8d 591.0px,#355e8d 592.5px,#355f8d 594.0px,#33638d 595.5px,#31668e 597.0px,#31668e 598.5px,#31668e 600.0px,#31668e 601.5px,#31688e 603.0px,#2e6d8e 604.5px,#2e6e8e 606.0px,#2e6e8e 607.5px,#2e6e8e 609.0px,#2e6e8e 610.5px,#2d708e 612.0px,#2c728e 613.5px,#2c728e 615.0px,#2c728e 616.5px,#2c728e 618.0px,#2c728e 619.5px,#2e6e8e 621.0px,#31678e 622.5px,#32658e 624.0px,#3a548c 625.5px,#3e4989 627.0px,#3e4989 628.5px,#3e4989 630.0px,#3e4989 631.5px,#3e4989 633.0px,#3e4989 634.5px,#3e4989 636.0px,#3e4989 637.5px,#3d4e8a 639.0px,#3c4f8a 640.5px,#3c4f8a 642.0px,#3c4f8a 643.5px,#3c4f8a 645.0px,#3c4f8a 646.5px,#3c4f8a 648.0px,#3c4f8a 649.5px,#3c4f8a 651.0px,#3e4c8a 652.5px,#433d84 654.0px,#443983 655.5px,#443983 657.0px,#443983 658.5px,#443a83 660.0px,#424186 661.5px,#3d4e8a 663.0px,#3c4f8a 664.5px,#3e4989 666.0px,#424086 667.5px,#424086 669.0px,#404688 670.5px,#3f4889 672.0px,#3e4989 673.5px,#3e4989 675.0px,#3e4989 676.5px,#3d4e8a 678.0px,#3c4f8a 679.5px,#3c4f8a 681.0px,#3c508b 682.5px,#375a8c 684.0px,#355f8d 685.5px,#34608d 687.0px,#355f8d 688.5px,#375a8c 690.0px,#3c508b 691.5px,#3c4f8a 693.0px,#3c4f8a 694.5px,#3c4f8a 696.0px,#3c508b 697.5px,#365d8d 699.0px,#32658e 700.5px,#32658e 702.0px,#32658e 703.5px,#32658e 705.0px,#32658e 706.5px,#32658e 708.0px,#32658e 709.5px,#32658e 711.0px,#32658e 712.5px,#32658e 714.0px,#32658e 715.5px,#31668e 717.0px,#2f6c8e 718.5px,#2e6f8e 720.0px,#2e6f8e 721.5px,#306a8e 723.0px,#34618d 724.5px,#34608d 726.0px,#34608d 727.5px,#355f8d 729.0px,#3d4d8a 730.5px,#472e7c 732.0px,#472a7a 733.5px,#472a7a 735.0px,#472a7a 736.5px,#472a7a 738.0px,#472d7b 739.5px,#46307e 741.0px,#46327e 742.5px,#46327e 744.0px,#46327e 745.5px,#46327e 747.0px,#46327e 748.5px,#46327e 750.0px,#46327e 751.5px,#46327e 753.0px,#46327e 754.5px,#46337f 756.0px,#443b84 757.5px,#433e85 759.0px,#433e85 760.5px,#433e85 762.0px,#433e85 763.5px,#433e85 765.0px,#443b84 766.5px,#46337f 768.0px,#46327e 769.5px,#46327e 771.0px,#46327e 772.5px,#46327e 774.0px,#46337f 775.5px,#443b84 777.0px,#433e85 778.5px,#433e85 780.0px,#433e85 781.5px,#433e85 783.0px,#453882 784.5px,#472f7d 786.0px,#472e7c 787.5px,#472e7c 789.0px,#472e7c 790.5px,#472e7c 792.0px,#472e7c 793.5px,#472e7c 795.0px,#472e7c 796.5px,#472e7c 798.0px,#472e7c 799.5px,#472e7c 801.0px,#472f7d 802.5px,#453882 804.0px,#433e85 805.5px,#433e85 807.0px,#433e85 808.5px,#443983 810.0px,#46327e 811.5px,#46327e 813.0px,#46327e 814.5px,#453581 816.0px,#414487 817.5px,#3f4788 819.0px,#404688 820.5px,#424086 822.0px,#433e85 823.5px,#433e85 825.0px,#433e85 826.5px,#433e85 828.0px,#433e85 829.5px,#433e85 831.0px,#433e85 832.5px,#433e85 834.0px,#433e85 835.5px,#433e85 837.0px,#433e85 838.5px,#443b84 840.0px,#453882 841.5px,#453882 843.0px,#453882 844.5px,#453882 846.0px,#453882 847.5px,#453882 849.0px,#453882 850.5px,#453882 852.0px,#453882 853.5px,#453882 855.0px,#453882 856.5px,#453882 858.0px,#453882 859.5px,#453882 861.0px,#443983 862.5px,#3e4c8a 864.0px,#31668e 865.5px,#30698e 867.0px,#30698e 868.5px,#355f8d 870.0px,#3c4f8a 871.5px,#3d4d8a 873.0px,#3e4c8a 874.5px,#433e85 876.0px,#453581 877.5px,#463480 879.0px,#463480 880.5px,#463480 882.0px,#463480 883.5px,#463480 885.0px,#463480 886.5px,#463480 888.0px,#463480 889.5px,#453781 891.0px,#423f85 892.5px,#424186 894.0px,#424186 895.5px,#424186 897.0px,#424186 898.5px,#424186 900.0px,#424186 901.5px,#424186 903.0px,#424186 904.5px,#424186 906.0px,#424186 907.5px)"></div>
<div class="hc" style="left:751.80px;width:161.70px;background:linear-gradient(to bottom,#31668e 0.0px,#31668e 1.5px,#33638d 3.0px,#3a548c 4.5px,#3c508b 6.0px,#3c508b 7.5px,#38598c 9.0px,#2b758e 10.5px,#287d8e 12.0px,#287d8e 13.5px,#287d8e 15.0px,#287d8e 16.5px,#287d8e 18.0px,#287d8e 19.5px,#287d8e 21.0px,#287d8e 22.5px,#287d8e 24.0px,#287d8e 25.5px,#287d8e 27.0px,#287d8e 28.5px,#287d8e 30.0px,#2c718e 31.5px,#34608d 33.0px,#355e8d 34.5px,#355e8d 36.0px,#355e8d 37.5px,#355e8d 39.0px,#355e8d 40.5px,#355e8d 42.0px,#355e8d 43.5px,#355f8d 45.0px,#32648e 46.5px,#2e6d8e 48.0px,#2e6e8e 49.5px,#2e6e8e 51.0px,#2e6e8e 52.5px,#2e6e8e 54.0px,#2e6e8e 55.5px,#2e6e8e 57.0px,#2e6e8e 58.5px,#2e6e8e 60.0px,#2e6e8e 61.5px,#2e6f8e 63.0px,#29798e 64.5px,#277f8e 66.0px,#27808e 67.5px,#27808e 69.0px,#27808e 70.5px,#27808e 72.0px,#27808e 73.5px,#27808e 75.0px,#27808e 76.5px,#27808e 78.0px,#27808e 79.5px,#27808e 81.0px,#27808e 82.5px,#27808e 84.0px,#27808e 85.5px,#27808e 87.0px,#27808e 88.5px,#27808e 90.0px,#27808e 91.5px,#27808e 93.0px,#27808e 94.5px,#27808e 96.0px,#297a8e 97.5px,#32648e 99.0px,#34608d 100.5px,#2c718e 102.0px,#287d8e 103.5px,#287d8e 105.0px,#287d8e 106.5px,#287d8e 108.0px,#287d8e 109.5px,#287d8e 111.0px,#26828e 112.5px,#20938c 114.0px,#1f988b 115.5px,#1f988b 117.0px,#1f988b 118.5px,#1f988b 120.0px,#1f988b 121.5px,#1f988b 123.0px,#1f988b 124.5px,#1f988b 126.0px,#1f988b 127.5px,#1f988b 129.0px,#1f988b 130.5px,#1f988b 132.0px,#1f988b 133.5px,#1f988b 135.0px,#1f988b 136.5px,#1f988b 138.0px,#1f988b 139.5px,#1f988b 141.0px,#1f9a8a 142.5px,#26ad81 144.0px,#35b779 145.5px,#35b779 147.0px,#35b779 148.5px,#35b779 150.0px,#35b779 151.5px,#35b779 153.0px,#35b779 154.5px,#35b779 156.0px,#35b779 157.5px,#35b779 159.0px,#35b779 160.5px,#35b779 162.0px,#35b779 163.5px,#35b779 165.0px,#35b779 166.5px,#35b779 168.0px,#35b779 169.5px,#35b779 171.0px,#35b779 172.5px,#35b779 174.0px,#35b779 175.5px,#3bbb75 177.0px,#5ac864 178.5px,#63cb5f 180.0px,#54c568 181.5px,#29af7f 183.0px,#24aa83 184.5px,#24aa83 186.0px,#23a983 187.5px,#1f9f88 189.0px,#2a768e 190.5px,#2e6d8e 192.0px,#218e8d 193.5px,#48c16e 195.0px,#52c569 196.5px,#54c568 198.0px,#6ece58 199.5px,#81d34d 201.0px,#81d34d 202.5px,#7fd34e 204.0px,#6ece58 205.5px,#69cd5b 207.0px,#69cd5b 208.5px,#69cd5b 210.0px,#69cd5b 211.5px,#69cd5b 213.0px,#69cd5b 214.5px,#69cd5b 216.0px,#69cd5b 217.5px,#69cd5b 219.0px,#67cc5c 220.5px,#65cb5e 222.0px,#63cb5f 223.5px,#63cb5f 225.0px,#67cc5c 226.5px,#86d549 228.0px,#9dd93b 229.5px,#9dd93b 231.0px,#9dd93b 232.5px,#9dd93b 234.0px,#9dd93b 235.5px,#9dd93b 237.0px,#9dd93b 238.5px,#9dd93b 240.0px,#a0da39 241.5px,#b8de29 243.0px,#c8e020 244.5px,#c8e020 246.0px,#c8e020 247.5px,#dde318 249.0px,#fbe723 250.5px,#fde725 252.0px,#fde725 253.5px,#f6e620 255.0px,#d8e219 256.5px,#d0e11c 258.0px,#cde11d 259.5px,#cde11d 261.0px,#cde11d 262.5px,#cde11d 264.0px,#cde11d 265.5px,#cde11d 267.0px,#cde11d 268.5px,#cde11d 270.0px,#cde11d 271.5px,#cde11d 273.0px,#cde11d 274.5px,#d0e11c 276.0px,#dae319 277.5px,#e2e418 279.0px,#e2e418 280.5px,#e2e418 282.0px,#e2e418 283.5px,#dfe318 285.0px,#cde11d 286.5px,#c8e020 288.0px,#c8e020 289.5px,#c8e020 291.0px,#c5e021 292.5px,#addc30 294.0px,#86d549 295.5px,#81d34d 297.0px,#69cd5b 298.5px,#30698e 300.0px,#48186a 301.5px,#481467 303.0px,#481467 304.5px,#481467 306.0px,#481467 307.5px,#481467 309.0px,#481467 310.5px,#481467 312.0px,#481467 313.5px,#481467 315.0px,#481467 316.5px,#481467 318.0px,#481467 319.5px,#481467 321.0px,#460a5d 322.5px,#450457 324.0px,#440256 325.5px,#440256 327.0px,#440256 328.5px,#440256 330.0px,#440256 331.5px,#460b5e 333.0px,#482878 334.5px,#472e7c 336.0px,#472e7c 337.5px,#472e7c 339.0px,#472e7c 340.5px,#472e7c 342.0px,#472e7c 343.5px,#472e7c 345.0px,#472e7c 346.5px,#472e7c 348.0px,#472e7c 349.5px,#472e7c 351.0px,#472e7c 352.5px,#472e7c 354.0px,#472e7c 355.5px,#472e7c 357.0px,#472e7c 358.5px,#472e7c 360.0px,#472e7c 361.5px,#472e7c 363.0px,#472e7c 364.5px,#472e7c 366.0px,#472e7c 367.5px,#472e7c 369.0px,#472f7d 370.5px,#443a83 372.0px,#424186 373.5px,#424186 375.0px,#424186 376.5px,#424186 378.0px,#424186 379.5px,#424186 381.0px,#424186 382.5px,#443b84 384.0px,#46327e 385.5px,#46327e 387.0px,#46327e 388.5px,#46327e 390.0px,#46327e 391.5px,#46327e 393.0px,#46327e 394.5px,#46327e 396.0px,#46327e 397.5px,#46327e 399.0px,#46327e 400.5px,#46327e 402.0px,#472e7c 403.5px,#482878 405.0px,#482878 406.5px,#482878 408.0px,#482878 409.5px,#482878 411.0px,#482878 412.5px,#482878 414.0px,#482878 415.5px,#482878 417.0px,#482878 418.5px,#482878 420.0px,#482878 421.5px,#482878 423.0px,#482878 424.5px,#482677 426.0px,#481f70 427.5px,#481a6c 429.0px,#481a6c 430.5px,#481a6c 432.0px,#481a6c 433.5px,#481a6c 435.0px,#481a6c 436.5px,#481a6c 438.0px,#481a6c 439.5px,#481a6c 441.0px,#481a6c 442.5px,#481b6d 444.0px,#482071 445.5px,#482071 447.0px,#482071 448.5px,#481c6e 450.0px,#481c6e 451.5px,#481c6e 453.0px,#481c6e 454.5px,#481c6e 456.0px,#481c6e 457.5px,#481c6e 459.0px,#481c6e 460.5px,#481f70 462.0px,#482374 463.5px,#482374 465.0px,#482374 466.5px,#482374 468.0px,#482374 469.5px,#482979 471.0px,#472d7b 472.5px,#472d7b 474.0px,#472d7b 475.5px,#472d7b 477.0px,#472f7d 478.5px,#453781 480.0px,#443983 481.5px,#443983 483.0px,#443983 484.5px,#463480 486.0px,#481d6f 487.5px,#48186a 489.0px,#48186a 490.5px,#48186a 492.0px,#48186a 493.5px,#48186a 495.0px,#48186a 496.5px,#48186a 498.0px,#48186a 499.5px,#48186a 501.0px,#48186a 502.5px,#48186a 504.0px,#48186a 505.5px,#48186a 507.0px,#48186a 508.5px,#48186a 510.0px,#48186a 511.5px,#48186a 513.0px,#48186a 514.5px,#48186a 516.0px,#48186a 517.5px,#48186a 519.0px,#48186a 520.5px,#48186a 522.0px,#48186a 523.5px,#48186a 525.0px,#48186a 526.5px,#48186a 528.0px,#48186a 529.5px,#48186a 531.0px,#48186a 532.5px,#48186a 534.0px,#48186a 535.5px,#48186a 537.0px,#48186a 538.5px,#48186a 540.0px,#48186a 541.5px,#48186a 543.0px,#48186a 544.5px,#48186a 546.0px,#48186a 547.5px,#48186a 549.0px,#48186a 550.5px,#48186a 552.0px,#48186a 553.5px,#481a6c 555.0px,#424086 556.5px,#2c738e 558.0px,#2a788e 559.5px,#2a788e 561.0px,#2b748e 562.5px,#31678e 564.0px,#32648e 565.5px,#32648e 567.0px,#33638d 568.5px,#355f8d 570.0px,#355e8d 571.5px,#355e8d 573.0px,#355e8d 574.5px,#355e8d 576.0px,#355e8d 577.5px,#355e8d 579.0px,#355e8d 580.5px,#375a8c 582.0px,#3a538b 583.5px,#3a538b 585.0px,#3a538b 586.5px,#3a538b 588.0px,#3a548c 589.5px,#355e8d 591.0px,#33638d 592.5px,#32648e 594.0px,#32648e 595.5px,#32648e 597.0px,#32648e 598.5px,#32648e 600.0px,#32648e 601.5px,#32648e 603.0px,#32648e 604.5px,#32648e 606.0px,#31678e 607.5px,#2b748e 609.0px,#2a788e 610.5px,#2a788e 612.0px,#2a778e 613.5px,#2e6d8e 615.0px,#31668e 616.5px,#31668e 618.0px,#31668e 619.5px,#31668e 621.0px,#31668e 622.5px,#32658e 624.0px,#39568c 625.5px,#3d4e8a 627.0px,#3d4d8a 628.5px,#3d4d8a 630.0px,#3d4d8a 631.5px,#3d4d8a 633.0px,#3d4d8a 634.5px,#3d4d8a 636.0px,#3d4d8a 637.5px,#3d4d8a 639.0px,#3d4d8a 640.5px,#3d4d8a 642.0px,#3d4d8a 643.5px,#3d4d8a 645.0px,#404688 646.5px,#443983 648.0px,#453882 649.5px,#453882 651.0px,#453882 652.5px,#453882 654.0px,#453882 655.5px,#453882 657.0px,#453882 658.5px,#453882 660.0px,#453882 661.5px,#443b84 663.0px,#3f4788 664.5px,#3e4a89 666.0px,#3e4a89 667.5px,#3e4a89 669.0px,#3e4a89 670.5px,#3e4a89 672.0px,#3e4a89 673.5px,#3e4a89 675.0px,#3e4989 676.5px,#3f4889 678.0px,#3f4788 679.5px,#3f4788 681.0px,#3f4788 682.5px,#414487 684.0px,#424186 685.5px,#424186 687.0px,#424186 688.5px,#424186 690.0px,#424186 691.5px,#424186 693.0px,#424186 694.5px,#424186 696.0px,#414287 697.5px,#3a538b 699.0px,#355e8d 700.5px,#355e8d 702.0px,#355e8d 703.5px,#355e8d 705.0px,#355e8d 706.5px,#355e8d 708.0px,#355e8d 709.5px,#355e8d 711.0px,#355e8d 712.5px,#355e8d 714.0px,#355e8d 715.5px,#355e8d 717.0px,#355e8d 718.5px,#355e8d 720.0px,#355e8d 721.5px,#355e8d 723.0px,#355e8d 724.5px,#355e8d 726.0px,#355e8d 727.5px,#355e8d 729.0px,#3f4788 730.5px,#482071 732.0px,#481c6e 733.5px,#481c6e 735.0px,#482677 736.5px,#472d7b 738.0px,#472d7b 739.5px,#472d7b 741.0px,#472d7b 742.5px,#472d7b 744.0px,#472d7b 745.5px,#472d7b 747.0px,#463480 748.5px,#443983 750.0px,#443983 751.5px,#443983 753.0px,#443983 754.5px,#443983 756.0px,#443983 757.5px,#443983 759.0px,#443983 760.5px,#443983 762.0px,#443983 763.5px,#443983 765.0px,#443983 766.5px,#443983 768.0px,#443983 769.5px,#443983 771.0px,#443983 772.5px,#443983 774.0px,#443983 775.5px,#443983 777.0px,#443983 778.5px,#443983 780.0px,#453781 781.5px,#482979 783.0px,#482576 784.5px,#482576 786.0px,#482576 787.5px,#482576 789.0px,#482576 790.5px,#482576 792.0px,#482576 793.5px,#482576 795.0px,#482576 796.5px,#482576 798.0px,#482576 799.5px,#482576 801.0px,#482576 802.5px,#482576 804.0px,#482878 805.5px,#46307e 807.0px,#46337f 808.5px,#46337f 810.0px,#46337f 811.5px,#46337f 813.0px,#46337f 814.5px,#463480 816.0px,#453882 817.5px,#443983 819.0px,#443983 820.5px,#443983 822.0px,#443983 823.5px,#443983 825.0px,#443983 826.5px,#443983 828.0px,#443983 829.5px,#443983 831.0px,#443983 832.5px,#443983 834.0px,#443983 835.5px,#443983 837.0px,#443983 838.5px,#453882 840.0px,#453781 841.5px,#453781 843.0px,#453781 844.5px,#453781 846.0px,#453781 847.5px,#453781 849.0px,#453781 850.5px,#453781 852.0px,#453781 853.5px,#453781 855.0px,#453781 856.5px,#453781 858.0px,#424186 859.5px,#3c508b 861.0px,#3b518b 862.5px,#3b518b 864.0px,#3b518b 865.5px,#3b518b 867.0px,#3b518b 868.5px,#3b518b 870.0px,#3b518b 871.5px,#3b518b 873.0px,#3c508b 874.5px,#423f85 876.0px,#46337f 877.5px,#46337f 879.0px,#46337f 880.5px,#46337f 882.0px,#46337f 883.5px,#46337f 885.0px,#46337f 886.5px,#46337f 888.0px,#46337f 889.5px,#463480 891.0px,#453882 892.5px,#443983 894.0px,#443983 895.5px,#443983 897.0px,#443983 898.5px,#443983 900.0px,#443983 901.5px,#443983 903.0px,#443983 904.5px,#443983 906.0px,#443983 907.5px)"></div>
<div class="hc" style="left:912.90px;width:164.20px;background:linear-gradient(to bottom,#28ae80 0.0px,#28ae80 1.5px,#28ae80 3.0px,#28ae80 4.5px,#26ad81 6.0px,#24aa83 7.5px,#24aa83 9.0px,#24aa83 10.5px,#22a785 12.0px,#1fa088 13.5px,#1e9d89 15.0px,#1e9d89 16.5px,#1e9d89 18.0px,#1f9e89 19.5px,#21a585 21.0px,#2db27d 22.5px,#2eb37c 24.0px,#2eb37c 25.5px,#2eb37c 27.0px,#2eb37c 28.5px,#2eb37c 30.0px,#23a983 31.5px,#1f9a8a 33.0px,#1f988b 34.5px,#1f988b 36.0px,#1f988b 37.5px,#1f988b 39.0px,#1f988b 40.5px,#1f988b 42.0px,#1f988b 43.5px,#1f988b 45.0px,#1f988b 46.5px,#1f988b 48.0px,#1f988b 49.5px,#1f988b 51.0px,#1f988b 52.5px,#1f988b 54.0px,#1f988b 55.5px,#1e9b8a 57.0px,#21a685 58.5px,#24aa83 60.0px,#24aa83 61.5px,#24aa83 63.0px,#2db27d 64.5px,#35b779 66.0px,#31b57b 67.5px,#22a884 69.0px,#20a486 70.5px,#20a486 72.0px,#20a486 73.5px,#20a486 75.0px,#20a486 76.5px,#21a585 78.0px,#27ad81 79.5px,#2eb37c 81.0px,#2eb37c 82.5px,#2eb37c 84.0px,#2eb37c 85.5px,#2db27d 87.0px,#29af7f 88.5px,#28ae80 90.0px,#28ae80 91.5px,#28ae80 93.0px,#28ae80 94.5px,#28ae80 96.0px,#31b57b 97.5px,#65cb5e 99.0px,#75d054 100.5px,#75d054 102.0px,#73d056 103.5px,#52c569 105.0px,#3fbc73 106.5px,#3fbc73 108.0px,#3fbc73 109.5px,#3fbc73 111.0px,#3dbc74 112.5px,#37b878 114.0px,#35b779 115.5px,#35b779 117.0px,#35b779 118.5px,#35b779 120.0px,#35b779 121.5px,#35b779 123.0px,#37b878 124.5px,#3fbc73 126.0px,#50c46a 127.5px,#52c569 129.0px,#52c569 130.5px,#52c569 132.0px,#52c569 133.5px,#52c569 135.0px,#52c569 136.5px,#56c667 138.0px,#7fd34e 139.5px,#9dd93b 141.0px,#9dd93b 142.5px,#9dd93b 144.0px,#9dd93b 145.5px,#9dd93b 147.0px,#9dd93b 148.5px,#9dd93b 150.0px,#9dd93b 151.5px,#9dd93b 153.0px,#9dd93b 154.5px,#9dd93b 156.0px,#9bd93c 157.5px,#84d44b 159.0px,#75d054 160.5px,#75d054 162.0px,#75d054 163.5px,#7fd34e 165.0px,#8ed645 166.5px,#90d743 168.0px,#90d743 169.5px,#90d743 171.0px,#93d741 172.5px,#b2dd2d 174.0px,#c5e021 175.5px,#93d741 177.0px,#1e9c89 178.5px,#23898e 180.0px,#23898e 181.5px,#23898e 183.0px,#23898e 184.5px,#23898e 186.0px,#24868e 187.5px,#2f6c8e 189.0px,#375a8c 190.5px,#2c728e 192.0px,#69cd5b 193.5px,#aadc32 195.0px,#aadc32 196.5px,#aadc32 198.0px,#aadc32 199.5px,#aadc32 201.0px,#aadc32 202.5px,#aadc32 204.0px,#aadc32 205.5px,#b2dd2d 207.0px,#cde11d 208.5px,#d5e21a 210.0px,#d5e21a 211.5px,#d5e21a 213.0px,#d5e21a 214.5px,#d5e21a 216.0px,#d5e21a 217.5px,#d5e21a 219.0px,#d8e219 220.5px,#e7e419 222.0px,#eae51a 223.5px,#eae51a 225.0px,#e7e419 226.5px,#d5e21a 228.0px,#c8e020 229.5px,#c8e020 231.0px,#c8e020 232.5px,#c8e020 234.0px,#c8e020 235.5px,#cae11f 237.0px,#e2e418 238.5px,#efe51c 240.0px,#f1e51d 241.5px,#f1e51d 243.0px,#f1e51d 244.5px,#f1e51d 246.0px,#f1e51d 247.5px,#f1e51d 249.0px,#e7e419 250.5px,#c2df23 252.0px,#bade28 253.5px,#bade28 255.0px,#b5de2b 256.5px,#86d549 258.0px,#69cd5b 259.5px,#69cd5b 261.0px,#67cc5c 262.5px,#4cc26c 264.0px,#2ab07f 265.5px,#2cb17e 267.0px,#5ac864 268.5px,#81d34d 270.0px,#81d34d 271.5px,#81d34d 273.0px,#6ece58 274.5px,#54c568 276.0px,#52c569 277.5px,#52c569 279.0px,#52c569 280.5px,#52c569 282.0px,#3fbc73 283.5px,#29af7f 285.0px,#28ae80 286.5px,#28ae80 288.0px,#21a585 289.5px,#1f978b 291.0px,#1f958b 292.5px,#1f978b 294.0px,#21a585 295.5px,#27ad81 297.0px,#22a884 298.5px,#32648e 300.0px,#46307e 301.5px,#472e7c 303.0px,#472e7c 304.5px,#472e7c 306.0px,#472e7c 307.5px,#472e7c 309.0px,#472e7c 310.5px,#472e7c 312.0px,#472e7c 313.5px,#472c7a 315.0px,#482374 316.5px,#482173 318.0px,#482071 319.5px,#482071 321.0px,#482071 322.5px,#482071 324.0px,#481f70 325.5px,#481668 327.0px,#471365 328.5px,#471365 330.0px,#471365 331.5px,#482071 333.0px,#3d4e8a 334.5px,#38598c 336.0px,#38598c 337.5px,#38598c 339.0px,#39558c 340.5px,#3e4a89 342.0px,#3f4788 343.5px,#3f4788 345.0px,#3f4788 346.5px,#3f4788 348.0px,#3f4788 349.5px,#3f4788 351.0px,#3f4788 352.5px,#3f4788 354.0px,#3f4889 355.5px,#39558c 357.0px,#355e8d 358.5px,#355e8d 360.0px,#355e8d 361.5px,#355e8d 363.0px,#355e8d 364.5px,#355e8d 366.0px,#355e8d 367.5px,#355e8d 369.0px,#355e8d 370.5px,#355e8d 372.0px,#355e8d 373.5px,#33638d 375.0px,#2c738e 376.5px,#2a788e 378.0px,#2c738e 379.5px,#33638d 381.0px,#355e8d 382.5px,#355e8d 384.0px,#355e8d 385.5px,#355e8d 387.0px,#355e8d 388.5px,#33628d 390.0px,#2d708e 391.5px,#2c728e 393.0px,#2c728e 394.5px,#2e6f8e 396.0px,#2e6e8e 397.5px,#2e6e8e 399.0px,#2e6e8e 400.5px,#2e6e8e 402.0px,#2e6e8e 403.5px,#2f6b8e 405.0px,#34618d 406.5px,#355e8d 408.0px,#355e8d 409.5px,#355e8d 411.0px,#355e8d 412.5px,#365c8d 414.0px,#38598c 415.5px,#38598c 417.0px,#38598c 418.5px,#38598c 420.0px,#38598c 421.5px,#38598c 423.0px,#38598c 424.5px,#38598c 426.0px,#38598c 427.5px,#38598c 429.0px,#38598c 430.5px,#38598c 432.0px,#32648e 433.5px,#2c738e 435.0px,#2b758e 436.5px,#2b758e 438.0px,#2b758e 439.5px,#2b758e 441.0px,#2b758e 442.5px,#2b758e 444.0px,#2b758e 445.5px,#2b758e 447.0px,#2b758e 448.5px,#2c738e 450.0px,#2c728e 451.5px,#2c728e 453.0px,#2c738e 454.5px,#2a768e 456.0px,#2a788e 457.5px,#2a788e 459.0px,#2a788e 460.5px,#2a788e 462.0px,#2a788e 463.5px,#2a788e 465.0px,#2a788e 466.5px,#2a788e 468.0px,#2a788e 469.5px,#2a788e 471.0px,#2a788e 472.5px,#2a788e 474.0px,#287d8e 475.5px,#27808e 477.0px,#27808e 478.5px,#27808e 480.0px,#27808e 481.5px,#27808e 483.0px,#277e8e 484.5px,#2c718e 486.0px,#30698e 487.5px,#30698e 489.0px,#30698e 490.5px,#33638d 492.0px,#375a8c 493.5px,#38598c 495.0px,#38598c 496.5px,#38598c 498.0px,#38598c 499.5px,#38598c 501.0px,#38598c 502.5px,#375a8c 504.0px,#34608d 505.5px,#33638d 507.0px,#32648e 508.5px,#32648e 510.0px,#32648e 511.5px,#34608d 513.0px,#3b518b 514.5px,#3d4e8a 516.0px,#3d4d8a 517.5px,#3d4d8a 519.0px,#3d4d8a 520.5px,#3d4d8a 522.0px,#3d4d8a 523.5px,#3d4d8a 525.0px,#3d4d8a 526.5px,#3e4a89 528.0px,#433e85 529.5px,#443b84 531.0px,#443b84 532.5px,#443b84 534.0px,#443b84 535.5px,#443b84 537.0px,#443b84 538.5px,#443b84 540.0px,#443b84 541.5px,#433e85 543.0px,#3e4a89 544.5px,#3d4d8a 546.0px,#3d4d8a 547.5px,#3d4d8a 549.0px,#3d4d8a 550.5px,#3d4d8a 552.0px,#3d4d8a 553.5px,#3d4d8a 555.0px,#3c508b 556.5px,#30698e 558.0px,#2a778e 559.5px,#2a788e 561.0px,#2a788e 562.5px,#2a788e 564.0px,#2a788e 565.5px,#2a788e 567.0px,#29798e 568.5px,#287c8e 570.0px,#287d8e 571.5px,#287d8e 573.0px,#287d8e 574.5px,#287d8e 576.0px,#26828e 577.5px,#20928c 579.0px,#1f958b 580.5px,#1f958b 582.0px,#1f958b 583.5px,#1f958b 585.0px,#1f958b 586.5px,#1f958b 588.0px,#1f958b 589.5px,#228d8d 591.0px,#24878e 592.5px,#24878e 594.0px,#24878e 595.5px,#24878e 597.0px,#24878e 598.5px,#24878e 600.0px,#24878e 601.5px,#24878e 603.0px,#24878e 604.5px,#24878e 606.0px,#238a8d 607.5px,#1f958b 609.0px,#1f988b 610.5px,#1f988b 612.0px,#1f988b 613.5px,#1f988b 615.0px,#1f988b 616.5px,#1f988b 618.0px,#1f988b 619.5px,#1f988b 621.0px,#1f968b 622.5px,#218e8d 624.0px,#228c8d 625.5px,#228c8d 627.0px,#228c8d 628.5px,#228c8d 630.0px,#228c8d 631.5px,#228c8d 633.0px,#228c8d 634.5px,#20928c 636.0px,#1f9a8a 637.5px,#1e9b8a 639.0px,#1e9b8a 640.5px,#1e9b8a 642.0px,#1e9b8a 643.5px,#1e9b8a 645.0px,#1e9b8a 646.5px,#1f978b 648.0px,#238a8d 649.5px,#24878e 651.0px,#24878e 652.5px,#24878e 654.0px,#24878e 655.5px,#24878e 657.0px,#24878e 658.5px,#24878e 660.0px,#24878e 661.5px,#23888e 663.0px,#218f8d 664.5px,#21918c 666.0px,#21918c 667.5px,#21918c 669.0px,#21918c 670.5px,#21918c 672.0px,#21918c 673.5px,#21918c 675.0px,#218e8d 676.5px,#25848e 678.0px,#26828e 679.5px,#26828e 681.0px,#26828e 682.5px,#26828e 684.0px,#26828e 685.5px,#23888e 687.0px,#1f9f88 688.5px,#20a486 690.0px,#20a486 691.5px,#20a486 693.0px,#20a486 694.5px,#1fa188 696.0px,#21908d 697.5px,#228c8d 699.0px,#1f968b 700.5px,#21a585 702.0px,#22a785 703.5px,#22a785 705.0px,#22a785 706.5px,#22a785 708.0px,#22a785 709.5px,#22a785 711.0px,#22a785 712.5px,#22a785 714.0px,#22a785 715.5px,#22a785 717.0px,#22a785 718.5px,#22a785 720.0px,#22a785 721.5px,#22a785 723.0px,#22a785 724.5px,#22a785 726.0px,#22a785 727.5px,#21a685 729.0px,#1f958b 730.5px,#297b8e 732.0px,#2a788e 733.5px,#2a788e 735.0px,#2a788e 736.5px,#2a788e 738.0px,#2a788e 739.5px,#2a788e 741.0px,#2a788e 742.5px,#2a788e 744.0px,#2a788e 745.5px,#2a788e 747.0px,#2a788e 748.5px,#2a788e 750.0px,#2a788e 751.5px,#2a788e 753.0px,#2a788e 754.5px,#2a788e 756.0px,#2a788e 757.5px,#2a788e 759.0px,#2a788e 760.5px,#2a788e 762.0px,#2a788e 763.5px,#2a788e 765.0px,#297a8e 766.5px,#25848e 768.0px,#24878e 769.5px,#24878e 771.0px,#24878e 772.5px,#24878e 774.0px,#24878e 775.5px,#24878e 777.0px,#24878e 778.5px,#25858e 780.0px,#26828e 781.5px,#26828e 783.0px,#26828e 784.5px,#26828e 786.0px,#26828e 787.5px,#26828e 789.0px,#26828e 790.5px,#26828e 792.0px,#26828e 793.5px,#26828e 795.0px,#26828e 796.5px,#25848e 798.0px,#25848e 799.5px,#25848e 801.0px,#25848e 802.5px,#25848e 804.0px,#25848e 805.5px,#25848e 807.0px,#25848e 808.5px,#25848e 810.0px,#25848e 811.5px,#25848e 813.0px,#25848e 814.5px,#25848e 816.0px,#25848e 817.5px,#25848e 819.0px,#25848e 820.5px,#25848e 822.0px,#25848e 823.5px,#25848e 825.0px,#25848e 826.5px,#25848e 828.0px,#25848e 829.5px,#25848e 831.0px,#25848e 832.5px,#25848e 834.0px,#25848e 835.5px,#26828e 837.0px,#26828e 838.5px,#26828e 840.0px,#26828e 841.5px,#26828e 843.0px,#26828e 844.5px,#26828e 846.0px,#26828e 847.5px,#26828e 849.0px,#26828e 850.5px,#26818e 852.0px,#2d708e 853.5px,#32648e 855.0px,#32648e 856.5px,#32648e 858.0px,#32648e 859.5px,#32648e 861.0px,#32648e 862.5px,#31688e 864.0px,#2e6e8e 865.5px,#2e6e8e 867.0px,#2e6e8e 868.5px,#2e6e8e 870.0px,#2e6e8e 871.5px,#2e6e8e 873.0px,#2e6e8e 874.5px,#2e6e8e 876.0px,#2e6f8e 877.5px,#27808e 879.0px,#1e9b8a 880.5px,#1e9d89 882.0px,#1e9d89 883.5px,#1e9d89 885.0px,#1e9d89 886.5px,#1e9d89 888.0px,#1e9d89 889.5px,#1e9b8a 891.0px,#20928c 892.5px,#21918c 894.0px,#21918c 895.5px,#21918c 897.0px,#21918c 898.5px,#21918c 900.0px,#21918c 901.5px,#21918c 903.0px,#21918c 904.5px,#21918c 906.0px,#21918c 907.5px)"></div>
<div class="hc" style="left:1076.50px;width:161.40px;background:linear-gradient(to bottom,#25848e 0.0px,#25848e 1.5px,#24878e 3.0px,#20928c 4.5px,#1f978b 6.0px,#22a884 7.5px,#2eb37c 9.0px,#29af7f 10.5px,#1fa188 12.0px,#1e9d89 13.5px,#1e9d89 15.0px,#1e9d89 16.5px,#1e9d89 18.0px,#1e9d89 19.5px,#1e9b8a 21.0px,#1f988b 22.5px,#1f988b 24.0px,#1f988b 25.5px,#1f988b 27.0px,#1f988b 28.5px,#1f988b 30.0px,#1f988b 31.5px,#1f988b 33.0px,#1f988b 34.5px,#1f958b 36.0px,#21908d 37.5px,#21908d 39.0px,#21908d 40.5px,#21908d 42.0px,#21908d 43.5px,#21908d 45.0px,#21908d 46.5px,#21908d 48.0px,#21908d 49.5px,#21908d 51.0px,#21908d 52.5px,#21908d 54.0px,#21908d 55.5px,#21908d 57.0px,#21908d 58.5px,#21908d 60.0px,#21908d 61.5px,#21918c 63.0px,#1e9d89 64.5px,#20a486 66.0px,#1fa287 67.5px,#1f988b 69.0px,#1f958b 70.5px,#1f958b 72.0px,#1f958b 73.5px,#1f958b 75.0px,#1f958b 76.5px,#1f958b 78.0px,#1f958b 79.5px,#1f958b 81.0px,#1f988b 82.5px,#1fa287 84.0px,#20a486 85.5px,#1fa287 87.0px,#1f9a8a 88.5px,#1f988b 90.0px,#1f988b 91.5px,#1f988b 93.0px,#1f988b 94.5px,#1f988b 96.0px,#1f988b 97.5px,#1f988b 99.0px,#1fa188 100.5px,#27ad81 102.0px,#27ad81 103.5px,#21a585 105.0px,#1fa088 106.5px,#1fa088 108.0px,#1fa088 109.5px,#1fa088 111.0px,#1fa088 112.5px,#1fa088 114.0px,#21a585 115.5px,#27ad81 117.0px,#28ae80 118.5px,#28ae80 120.0px,#28ae80 121.5px,#28ae80 123.0px,#28ae80 124.5px,#32b67a 126.0px,#46c06f 127.5px,#48c16e 129.0px,#48c16e 130.5px,#48c16e 132.0px,#48c16e 133.5px,#48c16e 135.0px,#48c16e 136.5px,#44bf70 138.0px,#29af7f 139.5px,#21a585 141.0px,#29af7f 142.5px,#7fd34e 144.0px,#9dd93b 145.5px,#90d743 147.0px,#67cc5c 148.5px,#5ec962 150.0px,#5ec962 151.5px,#5ec962 153.0px,#5ec962 154.5px,#5ec962 156.0px,#5ec962 157.5px,#5ec962 159.0px,#5ec962 160.5px,#5ec962 162.0px,#5ec962 163.5px,#67cc5c 165.0px,#75d054 166.5px,#75d054 168.0px,#75d054 169.5px,#75d054 171.0px,#75d054 172.5px,#75d054 174.0px,#86d549 175.5px,#93d741 177.0px,#26ad81 178.5px,#228b8d 180.0px,#23898e 181.5px,#23898e 183.0px,#23898e 184.5px,#23898e 186.0px,#24868e 187.5px,#2f6c8e 189.0px,#375a8c 190.5px,#2c718e 192.0px,#60ca60 193.5px,#9dd93b 195.0px,#9dd93b 196.5px,#9dd93b 198.0px,#a5db36 199.5px,#aadc32 201.0px,#aadc32 202.5px,#aadc32 204.0px,#aadc32 205.5px,#aadc32 207.0px,#aadc32 208.5px,#aadc32 210.0px,#aadc32 211.5px,#aadc32 213.0px,#aadc32 214.5px,#aadc32 216.0px,#aadc32 217.5px,#aadc32 219.0px,#addc30 220.5px,#b8de29 222.0px,#bade28 223.5px,#bddf26 225.0px,#cae11f 226.5px,#cde11d 228.0px,#cde11d 229.5px,#cde11d 231.0px,#cde11d 232.5px,#cde11d 234.0px,#cde11d 235.5px,#d0e11c 237.0px,#dfe318 238.5px,#eae51a 240.0px,#eae51a 241.5px,#eae51a 243.0px,#eae51a 244.5px,#eae51a 246.0px,#eae51a 247.5px,#eae51a 249.0px,#e2e418 250.5px,#c2df23 252.0px,#bade28 253.5px,#b8de29 255.0px,#a5db36 256.5px,#86d549 258.0px,#86d549 259.5px,#a5db36 261.0px,#b8de29 262.5px,#a5db36 264.0px,#86d549 265.5px,#81d34d 267.0px,#81d34d 268.5px,#81d34d 270.0px,#81d34d 271.5px,#81d34d 273.0px,#81d34d 274.5px,#81d34d 276.0px,#6ece58 277.5px,#63cb5f 279.0px,#63cb5f 280.5px,#63cb5f 282.0px,#63cb5f 283.5px,#5ec962 285.0px,#4cc26c 286.5px,#48c16e 288.0px,#48c16e 289.5px,#48c16e 291.0px,#48c16e 292.5px,#40bd72 294.0px,#37b878 295.5px,#35b779 297.0px,#2cb17e 298.5px,#31688e 300.0px,#46307e 301.5px,#472e7c 303.0px,#472e7c 304.5px,#472e7c 306.0px,#472e7c 307.5px,#472e7c 309.0px,#472e7c 310.5px,#472e7c 312.0px,#472e7c 313.5px,#472d7b 315.0px,#482979 316.5px,#482878 318.0px,#482878 319.5px,#482878 321.0px,#482878 322.5px,#482173 324.0px,#481769 325.5px,#481769 327.0px,#481769 328.5px,#481769 330.0px,#481769 331.5px,#482475 333.0px,#3a538b 334.5px,#355e8d 336.0px,#355e8d 337.5px,#365d8d 339.0px,#3c508b 340.5px,#3f4788 342.0px,#3f4788 343.5px,#3f4788 345.0px,#3f4788 346.5px,#3f4788 348.0px,#3f4788 349.5px,#3f4889 351.0px,#39558c 352.5px,#355e8d 354.0px,#355e8d 355.5px,#355e8d 357.0px,#39558c 358.5px,#3f4889 360.0px,#3f4788 361.5px,#3f4788 363.0px,#3f4788 364.5px,#3f4788 366.0px,#3f4788 367.5px,#3f4788 369.0px,#3f4889 370.5px,#39558c 372.0px,#355e8d 373.5px,#355e8d 375.0px,#355e8d 376.5px,#355e8d 378.0px,#355e8d 379.5px,#365d8d 381.0px,#3a538b 382.5px,#3d4e8a 384.0px,#3d4d8a 385.5px,#3d4d8a 387.0px,#3d4e8a 388.5px,#3b518b 390.0px,#355e8d 391.5px,#34618d 393.0px,#34618d 394.5px,#34618d 396.0px,#34618d 397.5px,#34618d 399.0px,#34618d 400.5px,#34618d 402.0px,#34618d 403.5px,#365d8d 405.0px,#3e4c8a 406.5px,#3f4788 408.0px,#3f4788 409.5px,#3f4788 411.0px,#3f4788 412.5px,#3f4788 414.0px,#3f4788 415.5px,#3f4788 417.0px,#3d4d8a 418.5px,#39558c 420.0px,#39558c 421.5px,#3d4e8a 423.0px,#414287 424.5px,#424186 426.0px,#424186 427.5px,#424186 429.0px,#414287 430.5px,#3e4a89 432.0px,#3c508b 433.5px,#3d4d8a 435.0px,#424186 436.5px,#433e85 438.0px,#433e85 439.5px,#424086 441.0px,#3b528b 442.5px,#355e8d 444.0px,#355e8d 445.5px,#355e8d 447.0px,#355f8d 448.5px,#33638d 450.0px,#32648e 451.5px,#32648e 453.0px,#33638d 454.5px,#38588c 456.0px,#3c508b 457.5px,#3c508b 459.0px,#39558c 460.5px,#30698e 462.0px,#2e6e8e 463.5px,#32658e 465.0px,#38588c 466.5px,#39558c 468.0px,#39558c 469.5px,#39558c 471.0px,#39558c 472.5px,#39558c 474.0px,#39558c 475.5px,#39558c 477.0px,#3a538b 478.5px,#3e4989 480.0px,#3f4788 481.5px,#3e4989 483.0px,#3b518b 484.5px,#3a538b 486.0px,#3a538b 487.5px,#3a538b 489.0px,#3a538b 490.5px,#3a538b 492.0px,#3b528b 493.5px,#3f4788 495.0px,#46337f 496.5px,#46327e 498.0px,#46337f 499.5px,#414487 501.0px,#3d4d8a 502.5px,#3e4c8a 504.0px,#443a83 505.5px,#472e7c 507.0px,#472e7c 508.5px,#453882 510.0px,#404688 511.5px,#3f4788 513.0px,#3f4788 514.5px,#3f4788 516.0px,#423f85 517.5px,#46337f 519.0px,#46327e 520.5px,#424186 522.0px,#39568c 523.5px,#38598c 525.0px,#39568c 526.5px,#433d84 528.0px,#472c7a 529.5px,#472a7a 531.0px,#472a7a 532.5px,#472c7a 534.0px,#443983 535.5px,#424186 537.0px,#424186 538.5px,#443b84 540.0px,#46327e 541.5px,#46327e 543.0px,#46327e 544.5px,#46327e 546.0px,#46327e 547.5px,#46307e 549.0px,#472c7a 550.5px,#482878 552.0px,#482878 553.5px,#482878 555.0px,#472d7b 556.5px,#375a8c 558.0px,#2c728e 559.5px,#2c728e 561.0px,#2c728e 562.5px,#2c728e 564.0px,#2c738e 565.5px,#2b758e 567.0px,#297a8e 568.5px,#297a8e 570.0px,#297a8e 571.5px,#297a8e 573.0px,#297a8e 574.5px,#297a8e 576.0px,#297a8e 577.5px,#297a8e 579.0px,#297b8e 580.5px,#277e8e 582.0px,#25838e 583.5px,#25848e 585.0px,#25848e 586.5px,#25848e 588.0px,#25848e 589.5px,#27808e 591.0px,#287d8e 592.5px,#287d8e 594.0px,#287d8e 595.5px,#287d8e 597.0px,#287d8e 598.5px,#287d8e 600.0px,#287d8e 601.5px,#297b8e 603.0px,#2b748e 604.5px,#2c728e 606.0px,#2c728e 607.5px,#2b758e 609.0px,#23898e 610.5px,#1f958b 612.0px,#1f958b 613.5px,#1f958b 615.0px,#228d8d 616.5px,#277f8e 618.0px,#287d8e 619.5px,#287d8e 621.0px,#29798e 622.5px,#2f6c8e 624.0px,#30698e 625.5px,#30698e 627.0px,#30698e 628.5px,#2e6f8e 630.0px,#2c728e 631.5px,#2c728e 633.0px,#2c728e 634.5px,#2c728e 636.0px,#2b748e 637.5px,#297b8e 639.0px,#287d8e 640.5px,#2a778e 642.0px,#2e6f8e 643.5px,#2e6e8e 645.0px,#2e6e8e 646.5px,#2e6e8e 648.0px,#2e6e8e 649.5px,#2e6e8e 651.0px,#2e6e8e 652.5px,#2e6d8e 654.0px,#32648e 655.5px,#355f8d 657.0px,#34608d 658.5px,#2f6c8e 660.0px,#2c728e 661.5px,#2d708e 663.0px,#32648e 664.5px,#34618d 666.0px,#34618d 667.5px,#33628d 669.0px,#2f6b8e 670.5px,#2d718e 672.0px,#2d718e 673.5px,#2d718e 675.0px,#2c718e 676.5px,#2a768e 678.0px,#2a788e 679.5px,#2a788e 681.0px,#2a788e 682.5px,#2a788e 684.0px,#2a788e 685.5px,#2a788e 687.0px,#2a788e 688.5px,#297a8e 690.0px,#287d8e 691.5px,#287d8e 693.0px,#287d8e 694.5px,#26818e 696.0px,#218e8d 697.5px,#21918c 699.0px,#21918c 700.5px,#21918c 702.0px,#21918c 703.5px,#228c8d 705.0px,#25858e 706.5px,#25848e 708.0px,#25848e 709.5px,#25838e 711.0px,#277e8e 712.5px,#287d8e 714.0px,#287d8e 715.5px,#287d8e 717.0px,#287d8e 718.5px,#277e8e 720.0px,#27808e 721.5px,#27808e 723.0px,#27808e 724.5px,#27808e 726.0px,#27808e 727.5px,#24868e 729.0px,#2a778e 730.5px,#39568c 732.0px,#3a538b 733.5px,#3a548c 735.0px,#355f8d 736.5px,#31668e 738.0px,#31668e 739.5px,#32658e 741.0px,#34608d 742.5px,#355e8d 744.0px,#355e8d 745.5px,#355e8d 747.0px,#355e8d 748.5px,#33638d 750.0px,#2f6b8e 751.5px,#2f6c8e 753.0px,#2f6c8e 754.5px,#2f6c8e 756.0px,#2f6c8e 757.5px,#2f6c8e 759.0px,#2f6c8e 760.5px,#2f6b8e 762.0px,#31678e 763.5px,#32648e 765.0px,#31668e 766.5px,#2e6f8e 768.0px,#2d718e 769.5px,#2d718e 771.0px,#2d718e 772.5px,#2d718e 774.0px,#2d718e 775.5px,#2d718e 777.0px,#2d718e 778.5px,#2d718e 780.0px,#2d718e 781.5px,#2d718e 783.0px,#306a8e 784.5px,#355f8d 786.0px,#355e8d 787.5px,#355e8d 789.0px,#355e8d 790.5px,#355e8d 792.0px,#355e8d 793.5px,#355e8d 795.0px,#355e8d 796.5px,#365c8d 798.0px,#365c8d 799.5px,#365c8d 801.0px,#365c8d 802.5px,#365c8d 804.0px,#365c8d 805.5px,#365c8d 807.0px,#365c8d 808.5px,#34608d 810.0px,#31668e 811.5px,#31668e 813.0px,#31668e 814.5px,#31668e 816.0px,#31668e 817.5px,#31668e 819.0px,#31668e 820.5px,#31678e 822.0px,#2f6b8e 823.5px,#2e6e8e 825.0px,#2e6e8e 826.5px,#2e6e8e 828.0px,#2e6e8e 829.5px,#2f6b8e 831.0px,#34618d 832.5px,#355e8d 834.0px,#355e8d 835.5px,#355e8d 837.0px,#355e8d 838.5px,#355e8d 840.0px,#355e8d 841.5px,#355e8d 843.0px,#355e8d 844.5px,#34608d 846.0px,#31678e 847.5px,#30698e 849.0px,#30698e 850.5px,#31688e 852.0px,#34618d 853.5px,#365c8d 855.0px,#365c8d 856.5px,#365c8d 858.0px,#365c8d 859.5px,#365c8d 861.0px,#365c8d 862.5px,#365c8d 864.0px,#34608d 865.5px,#2e6f8e 867.0px,#2c728e 868.5px,#2c728e 870.0px,#2c728e 871.5px,#2c728e 873.0px,#2c728e 874.5px,#2c728e 876.0px,#2c728e 877.5px,#2c728e 879.0px,#2c728e 880.5px,#2c728e 882.0px,#2c728e 883.5px,#2c728e 885.0px,#2c728e 886.5px,#2c728e 888.0px,#2c728e 889.5px,#2c728e 891.0px,#2c728e 892.5px,#2c728e 894.0px,#2c728e 895.5px,#2c728e 897.0px,#2c728e 898.5px,#2c728e 900.0px,#2c728e 901.5px,#2c728e 903.0px,#2c728e 904.5px,#2c728e 906.0px,#2c728e 907.5px)"></div>
<div class="hc" style="left:1237.30px;width:163.90px;background:linear-gradient(to bottom,#1e9d89 0.0px,#1e9d89 1.5px,#1e9b8a 3.0px,#20928c 4.5px,#21918c 6.0px,#21918c 7.5px,#21918c 9.0px,#20928c 10.5px,#1e9b8a 12.0px,#1e9d89 13.5px,#1e9d89 15.0px,#1e9d89 16.5px,#1e9d89 18.0px,#1e9d89 19.5px,#1e9d89 21.0px,#1fa188 22.5px,#25ac82 24.0px,#28ae80 25.5px,#28ae80 27.0px,#22a884 28.5px,#1f9e89 30.0px,#1e9d89 31.5px,#1e9d89 33.0px,#1fa088 34.5px,#22a785 36.0px,#23a983 37.5px,#1fa188 39.0px,#20928c 40.5px,#21918c 42.0px,#21918c 43.5px,#21918c 45.0px,#21918c 46.5px,#21918c 48.0px,#21918c 49.5px,#21918c 51.0px,#21918c 52.5px,#21918c 54.0px,#21918c 55.5px,#21918c 57.0px,#21918c 58.5px,#20928c 60.0px,#1f9e89 61.5px,#2cb17e 63.0px,#2eb37c 64.5px,#2db27d 66.0px,#24aa83 67.5px,#21a585 69.0px,#24aa83 70.5px,#2db27d 72.0px,#2db27d 73.5px,#24aa83 75.0px,#21a585 76.5px,#20a486 78.0px,#20a486 79.5px,#20a486 81.0px,#21a685 82.5px,#26ad81 84.0px,#28ae80 85.5px,#28ae80 87.0px,#28ae80 88.5px,#28ae80 90.0px,#28ae80 91.5px,#28ae80 93.0px,#28ae80 94.5px,#28ae80 96.0px,#28ae80 97.5px,#28ae80 99.0px,#38b977 100.5px,#5ac864 102.0px,#5ac864 103.5px,#3dbc74 105.0px,#2eb37c 106.5px,#2eb37c 108.0px,#2eb37c 109.5px,#2eb37c 111.0px,#32b67a 112.5px,#42be71 114.0px,#48c16e 115.5px,#48c16e 117.0px,#48c16e 118.5px,#48c16e 120.0px,#48c16e 121.5px,#48c16e 123.0px,#48c16e 124.5px,#3dbc74 126.0px,#2fb47c 127.5px,#2eb37c 129.0px,#3dbc74 130.5px,#5ac864 132.0px,#5ec962 133.5px,#5ec962 135.0px,#5ec962 136.5px,#5ac864 138.0px,#42be71 139.5px,#37b878 141.0px,#38b977 142.5px,#5ac864 144.0px,#75d054 145.5px,#75d054 147.0px,#75d054 148.5px,#75d054 150.0px,#75d054 151.5px,#75d054 153.0px,#75d054 154.5px,#75d054 156.0px,#75d054 157.5px,#75d054 159.0px,#75d054 160.5px,#75d054 162.0px,#75d054 163.5px,#6ccd5a 165.0px,#5ec962 166.5px,#60ca60 168.0px,#7cd250 169.5px,#8ed645 171.0px,#90d743 172.5px,#90d743 174.0px,#90d743 175.5px,#69cd5b 177.0px,#1f9a8a 178.5px,#228c8d 180.0px,#228c8d 181.5px,#228c8d 183.0px,#228c8d 184.5px,#228c8d 186.0px,#23898e 187.5px,#2e6d8e 189.0px,#375a8c 190.5px,#2c718e 192.0px,#60ca60 193.5px,#9dd93b 195.0px,#9dd93b 196.5px,#9dd93b 198.0px,#9dd93b 199.5px,#9dd93b 201.0px,#a0da39 202.5px,#b2dd2d 204.0px,#c0df25 205.5px,#c0df25 207.0px,#c0df25 208.5px,#c0df25 210.0px,#c0df25 211.5px,#c0df25 213.0px,#c0df25 214.5px,#c0df25 216.0px,#c0df25 217.5px,#c0df25 219.0px,#c5e021 220.5px,#d2e21b 222.0px,#d5e21a 223.5px,#d5e21a 225.0px,#d5e21a 226.5px,#d5e21a 228.0px,#d5e21a 229.5px,#d5e21a 231.0px,#d5e21a 232.5px,#d5e21a 234.0px,#d5e21a 235.5px,#d8e219 237.0px,#e7e419 238.5px,#f1e51d 240.0px,#f1e51d 241.5px,#f1e51d 243.0px,#f1e51d 244.5px,#f1e51d 246.0px,#f1e51d 247.5px,#f1e51d 249.0px,#eae51a 250.5px,#d0e11c 252.0px,#c8e020 253.5px,#c8e020 255.0px,#c8e020 256.5px,#c8e020 258.0px,#c8e020 259.5px,#c8e020 261.0px,#c8e020 262.5px,#bddf26 264.0px,#addc30 265.5px,#aadc32 267.0px,#aadc32 268.5px,#aadc32 270.0px,#aadc32 271.5px,#aadc32 273.0px,#9bd93c 274.5px,#84d44b 276.0px,#84d44b 277.5px,#8bd646 279.0px,#9bd93c 280.5px,#9dd93b 282.0px,#8ed645 283.5px,#77d153 285.0px,#75d054 286.5px,#75d054 288.0px,#84d44b 289.5px,#9bd93c 291.0px,#9dd93b 292.5px,#7fd34e 294.0px,#56c667 295.5px,#52c569 297.0px,#42be71 298.5px,#2f6c8e 300.0px,#472d7b 301.5px,#472a7a 303.0px,#472a7a 304.5px,#472a7a 306.0px,#472a7a 307.5px,#472a7a 309.0px,#472a7a 310.5px,#472a7a 312.0px,#472a7a 313.5px,#472a7a 315.0px,#472a7a 316.5px,#482475 318.0px,#482173 319.5px,#482071 321.0px,#482071 322.5px,#482071 324.0px,#482071 325.5px,#482071 327.0px,#481c6e 328.5px,#481467 330.0px,#471365 331.5px,#481d6f 333.0px,#414487 334.5px,#3d4d8a 336.0px,#3d4d8a 337.5px,#3d4d8a 339.0px,#3d4d8a 340.5px,#3d4d8a 342.0px,#3d4d8a 343.5px,#3c4f8a 345.0px,#39568c 346.5px,#38598c 348.0px,#3a548c 349.5px,#404688 351.0px,#424186 352.5px,#424186 354.0px,#424186 355.5px,#3e4a89 357.0px,#2f6b8e 358.5px,#2c728e 360.0px,#2c728e 361.5px,#32648e 363.0px,#3e4a89 364.5px,#3f4788 366.0px,#3f4788 367.5px,#3f4788 369.0px,#3f4889 370.5px,#3a548c 372.0px,#375b8d 373.5px,#365c8d 375.0px,#365c8d 376.5px,#365c8d 378.0px,#365c8d 379.5px,#365c8d 381.0px,#365c8d 382.5px,#365c8d 384.0px,#365c8d 385.5px,#365c8d 387.0px,#365c8d 388.5px,#365c8d 390.0px,#365c8d 391.5px,#365c8d 393.0px,#365c8d 394.5px,#365c8d 396.0px,#365c8d 397.5px,#365c8d 399.0px,#365c8d 400.5px,#365c8d 402.0px,#365c8d 403.5px,#365c8d 405.0px,#375b8d 406.5px,#3b528b 408.0px,#414287 409.5px,#414287 411.0px,#3e4a89 412.5px,#3c508b 414.0px,#3c508b 415.5px,#3c508b 417.0px,#3c508b 418.5px,#3d4e8a 420.0px,#414487 421.5px,#424186 423.0px,#424186 424.5px,#424186 426.0px,#424186 427.5px,#3e4989 429.0px,#3a548c 430.5px,#39558c 432.0px,#39558c 433.5px,#3a548c 435.0px,#3b518b 436.5px,#3c508b 438.0px,#3c508b 439.5px,#3c508b 441.0px,#3c508b 442.5px,#3c508b 444.0px,#3c508b 445.5px,#3c508b 447.0px,#3b518b 448.5px,#38588c 450.0px,#3a548c 451.5px,#404688 453.0px,#424186 454.5px,#404688 456.0px,#375a8c 457.5px,#355e8d 459.0px,#355e8d 460.5px,#355e8d 462.0px,#355e8d 463.5px,#34618d 465.0px,#31668e 466.5px,#31668e 468.0px,#31668e 469.5px,#31668e 471.0px,#31668e 472.5px,#31668e 474.0px,#31668e 475.5px,#31668e 477.0px,#31668e 478.5px,#32658e 480.0px,#375b8d 481.5px,#3a538b 483.0px,#3a538b 484.5px,#365c8d 486.0px,#287c8e 487.5px,#25848e 489.0px,#2a788e 490.5px,#3f4788 492.0px,#453882 493.5px,#453882 495.0px,#453882 496.5px,#453882 498.0px,#453882 499.5px,#453882 501.0px,#453882 502.5px,#443983 504.0px,#424186 505.5px,#3f4788 507.0px,#3f4788 508.5px,#3f4788 510.0px,#404588 511.5px,#424186 513.0px,#424186 514.5px,#424186 516.0px,#424186 517.5px,#424086 519.0px,#443983 520.5px,#463480 522.0px,#463480 523.5px,#463480 525.0px,#463480 526.5px,#463480 528.0px,#463480 529.5px,#463480 531.0px,#463480 532.5px,#463480 534.0px,#463480 535.5px,#463480 537.0px,#463480 538.5px,#463480 540.0px,#463480 541.5px,#46337f 543.0px,#472d7b 544.5px,#472a7a 546.0px,#472a7a 547.5px,#472a7a 549.0px,#472c7a 550.5px,#46307e 552.0px,#443a83 553.5px,#443b84 555.0px,#433e85 556.5px,#355e8d 558.0px,#2d708e 559.5px,#2d718e 561.0px,#2d718e 562.5px,#2d718e 564.0px,#2d718e 565.5px,#2d718e 567.0px,#2c738e 568.5px,#287d8e 570.0px,#27808e 571.5px,#27808e 573.0px,#27808e 574.5px,#27808e 576.0px,#27808e 577.5px,#26818e 579.0px,#21918c 580.5px,#1f9a8a 582.0px,#1e9b8a 583.5px,#1f9a8a 585.0px,#238a8d 586.5px,#2d718e 588.0px,#2e6e8e 589.5px,#2d708e 591.0px,#287c8e 592.5px,#25848e 594.0px,#25848e 595.5px,#25848e 597.0px,#25848e 598.5px,#25848e 600.0px,#25848e 601.5px,#25848e 603.0px,#26828e 604.5px,#26828e 606.0px,#26828e 607.5px,#26828e 609.0px,#26828e 610.5px,#26828e 612.0px,#26828e 613.5px,#238a8d 615.0px,#218e8d 616.5px,#218f8d 618.0px,#218f8d 619.5px,#218f8d 621.0px,#218f8d 622.5px,#218f8d 624.0px,#218f8d 625.5px,#1f968b 627.0px,#20a386 628.5px,#20a486 630.0px,#20a486 631.5px,#20a486 633.0px,#20938c 634.5px,#297a8e 636.0px,#2a788e 637.5px,#2a788e 639.0px,#2a788e 640.5px,#2a788e 642.0px,#2a788e 643.5px,#2a788e 645.0px,#2a788e 646.5px,#2a788e 648.0px,#2a788e 649.5px,#2a788e 651.0px,#29798e 652.5px,#287c8e 654.0px,#26828e 655.5px,#20928c 657.0px,#1f948c 658.5px,#24868e 660.0px,#287d8e 661.5px,#26828e 663.0px,#20928c 664.5px,#1f958b 666.0px,#21918c 667.5px,#287d8e 669.0px,#2a788e 670.5px,#2a788e 672.0px,#2a788e 673.5px,#2a788e 675.0px,#2a778e 676.5px,#2c738e 678.0px,#2c728e 679.5px,#2c728e 681.0px,#2c728e 682.5px,#2c728e 684.0px,#2c728e 685.5px,#2c728e 687.0px,#2c738e 688.5px,#2a768e 690.0px,#287c8e 691.5px,#287d8e 693.0px,#287d8e 694.5px,#25858e 696.0px,#21a685 697.5px,#28ae80 699.0px,#26ad81 700.5px,#1f9f88 702.0px,#1f968b 703.5px,#1f958b 705.0px,#1f958b 706.5px,#1f958b 708.0px,#1f958b 709.5px,#1f958b 711.0px,#1f958b 712.5px,#1f958b 714.0px,#1f958b 715.5px,#1f958b 717.0px,#1f958b 718.5px,#20928c 720.0px,#228c8d 721.5px,#228c8d 723.0px,#228c8d 724.5px,#1f968b 726.0px,#3dbc74 727.5px,#50c46a 729.0px,#21a585 730.5px,#2d718e 732.0px,#2f6c8e 733.5px,#2f6c8e 735.0px,#2f6c8e 736.5px,#2f6c8e 738.0px,#2f6c8e 739.5px,#2f6c8e 741.0px,#2f6c8e 742.5px,#2f6c8e 744.0px,#2f6c8e 745.5px,#2f6c8e 747.0px,#2f6b8e 748.5px,#30698e 750.0px,#32648e 751.5px,#32648e 753.0px,#32648e 754.5px,#32648e 756.0px,#32648e 757.5px,#32648e 759.0px,#32648e 760.5px,#32648e 762.0px,#306a8e 763.5px,#2e6e8e 765.0px,#2e6e8e 766.5px,#2e6e8e 768.0px,#2e6e8e 769.5px,#2e6e8e 771.0px,#2e6e8e 772.5px,#2e6e8e 774.0px,#2e6e8e 775.5px,#2e6e8e 777.0px,#2e6e8e 778.5px,#31688e 780.0px,#355f8d 781.5px,#355e8d 783.0px,#34608d 784.5px,#33638d 786.0px,#32648e 787.5px,#32648e 789.0px,#32648e 790.5px,#32648e 792.0px,#32648e 793.5px,#32648e 795.0px,#32648e 796.5px,#32648e 798.0px,#34618d 799.5px,#365c8d 801.0px,#365d8d 802.5px,#31678e 804.0px,#2e6e8e 805.5px,#2e6e8e 807.0px,#2e6e8e 808.5px,#2e6d8e 810.0px,#33638d 811.5px,#365c8d 813.0px,#365d8d 814.5px,#31678e 816.0px,#2e6e8e 817.5px,#2e6e8e 819.0px,#2e6e8e 820.5px,#2e6e8e 822.0px,#2e6e8e 823.5px,#2e6e8e 825.0px,#2e6e8e 826.5px,#2e6e8e 828.0px,#2e6e8e 829.5px,#2c718e 831.0px,#26818e 832.5px,#25848e 834.0px,#25848e 835.5px,#25848e 837.0px,#25848e 838.5px,#25848e 840.0px,#25848e 841.5px,#25848e 843.0px,#25848e 844.5px,#25848e 846.0px,#25848e 847.5px,#25848e 849.0px,#25848e 850.5px,#26828e 852.0px,#2e6d8e 853.5px,#355f8d 855.0px,#355e8d 856.5px,#355e8d 858.0px,#355e8d 859.5px,#33628d 861.0px,#2d708e 862.5px,#2c728e 864.0px,#2c728e 865.5px,#2c728e 867.0px,#2c728e 868.5px,#2c728e 870.0px,#2c728e 871.5px,#2c728e 873.0px,#2f6c8e 874.5px,#34608d 876.0px,#355e8d 877.5px,#34618d 879.0px,#297b8e 880.5px,#228b8d 882.0px,#228c8d 883.5px,#228c8d 885.0px,#25838e 886.5px,#2a768e 888.0px,#2b758e 889.5px,#2b758e 891.0px,#2b758e 892.5px,#2b758e 894.0px,#2b758e 895.5px,#2b758e 897.0px,#2b758e 898.5px,#2b758e 900.0px,#2b758e 901.5px,#2b758e 903.0px,#2b758e 904.5px,#2b758e 906.0px,#2b758e 907.5px)"></div>
<div class="hc" style="left:1400.60px;width:160.90px;background:linear-gradient(to bottom,#1e9b8a 0.0px,#1e9b8a 1.5px,#1e9b8a 3.0px,#1e9b8a 4.5px,#1f9f88 6.0px,#20a486 7.5px,#1fa088 9.0px,#1f998a 10.5px,#1f988b 12.0px,#1f988b 13.5px,#1e9b8a 15.0px,#20a486 16.5px,#22a785 18.0px,#22a785 19.5px,#20a486 21.0px,#1fa088 22.5px,#1fa188 24.0px,#21a685 25.5px,#23a983 27.0px,#24aa83 28.5px,#24aa83 30.0px,#21a585 31.5px,#20928c 33.0px,#218f8d 34.5px,#218f8d 36.0px,#218f8d 37.5px,#218f8d 39.0px,#218f8d 40.5px,#218f8d 42.0px,#218f8d 43.5px,#218f8d 45.0px,#218f8d 46.5px,#218f8d 48.0px,#218f8d 49.5px,#218f8d 51.0px,#218f8d 52.5px,#218f8d 54.0px,#218f8d 55.5px,#218f8d 57.0px,#218f8d 58.5px,#1e9b8a 60.0px,#28ae80 61.5px,#2ab07f 63.0px,#2cb17e 64.5px,#2cb17e 66.0px,#2cb17e 67.5px,#2cb17e 69.0px,#2cb17e 70.5px,#2ab07f 72.0px,#26ad81 73.5px,#1f9a8a 75.0px,#1f968b 76.5px,#1f958b 78.0px,#1f958b 79.5px,#1f958b 81.0px,#1f958b 82.5px,#1f958b 84.0px,#1f958b 85.5px,#1f978b 87.0px,#21a585 88.5px,#2db27d 90.0px,#4ac16d 91.5px,#52c569 93.0px,#48c16e 94.5px,#2ab07f 96.0px,#25ac82 97.5px,#25ac82 99.0px,#25ac82 100.5px,#2cb17e 102.0px,#4ec36b 103.5px,#58c765 105.0px,#4ec36b 106.5px,#31b57b 108.0px,#2cb17e 109.5px,#34b679 111.0px,#46c06f 112.5px,#48c16e 114.0px,#3bbb75 115.5px,#2db27d 117.0px,#2cb17e 118.5px,#2cb17e 120.0px,#2cb17e 121.5px,#2cb17e 123.0px,#2cb17e 124.5px,#37b878 126.0px,#50c46a 127.5px,#52c569 129.0px,#52c569 130.5px,#52c569 132.0px,#52c569 133.5px,#52c569 135.0px,#52c569 136.5px,#52c569 138.0px,#52c569 139.5px,#52c569 141.0px,#56c667 142.5px,#73d056 144.0px,#89d548 145.5px,#89d548 147.0px,#89d548 148.5px,#89d548 150.0px,#89d548 151.5px,#89d548 153.0px,#89d548 154.5px,#89d548 156.0px,#89d548 157.5px,#81d34d 159.0px,#65cb5e 160.5px,#5ec962 162.0px,#70cf57 163.5px,#93d741 165.0px,#95d840 166.5px,#95d840 168.0px,#95d840 169.5px,#95d840 171.0px,#9bd93c 172.5px,#c5e021 174.0px,#e2e418 175.5px,#aadc32 177.0px,#1e9d89 178.5px,#23898e 180.0px,#23898e 181.5px,#23898e 183.0px,#23898e 184.5px,#23898e 186.0px,#24868e 187.5px,#2f6c8e 189.0px,#375a8c 190.5px,#2c738e 192.0px,#6ece58 193.5px,#b2dd2d 195.0px,#b2dd2d 196.5px,#b2dd2d 198.0px,#b2dd2d 199.5px,#b2dd2d 201.0px,#b2dd2d 202.5px,#b2dd2d 204.0px,#b2dd2d 205.5px,#b2dd2d 207.0px,#b2dd2d 208.5px,#b2dd2d 210.0px,#b2dd2d 211.5px,#b5de2b 213.0px,#d5e21a 214.5px,#eae51a 216.0px,#eae51a 217.5px,#eae51a 219.0px,#eae51a 220.5px,#eae51a 222.0px,#eae51a 223.5px,#eae51a 225.0px,#e7e419 226.5px,#d5e21a 228.0px,#c8e020 229.5px,#c8e020 231.0px,#c8e020 232.5px,#c8e020 234.0px,#c8e020 235.5px,#c8e020 237.0px,#c8e020 238.5px,#d2e21b 240.0px,#fbe723 241.5px,#fde725 243.0px,#fde725 244.5px,#fde725 246.0px,#fde725 247.5px,#eae51a 249.0px,#bddf26 250.5px,#bade28 252.0px,#bade28 253.5px,#b5de2b 255.0px,#a2da37 256.5px,#9dd93b 258.0px,#9dd93b 259.5px,#9dd93b 261.0px,#9dd93b 262.5px,#93d741 264.0px,#84d44b 265.5px,#81d34d 267.0px,#81d34d 268.5px,#86d549 270.0px,#98d83e 271.5px,#9dd93b 273.0px,#9dd93b 274.5px,#9dd93b 276.0px,#9dd93b 277.5px,#9dd93b 279.0px,#84d44b 280.5px,#35b779 282.0px,#28ae80 283.5px,#28ae80 285.0px,#28ae80 286.5px,#28ae80 288.0px,#31b57b 289.5px,#65cb5e 291.0px,#75d054 292.5px,#73d056 294.0px,#52c569 295.5px,#3fbc73 297.0px,#32b67a 298.5px,#31688e 300.0px,#472d7b 301.5px,#472a7a 303.0px,#472a7a 304.5px,#472a7a 306.0px,#472a7a 307.5px,#472a7a 309.0px,#472a7a 310.5px,#472a7a 312.0px,#472a7a 313.5px,#472a7a 315.0px,#472a7a 316.5px,#472a7a 318.0px,#482878 319.5px,#481a6c 321.0px,#481769 322.5px,#481769 324.0px,#481769 325.5px,#481668 327.0px,#481467 328.5px,#471063 330.0px,#470e61 331.5px,#481b6d 333.0px,#414487 334.5px,#3d4d8a 336.0px,#3d4d8a 337.5px,#3d4d8a 339.0px,#3d4d8a 340.5px,#3d4d8a 342.0px,#3d4d8a 343.5px,#3d4d8a 345.0px,#3d4d8a 346.5px,#3d4d8a 348.0px,#3d4e8a 349.5px,#3b528b 351.0px,#3a538b 352.5px,#3a538b 354.0px,#3a538b 355.5px,#3a538b 357.0px,#3a538b 358.5px,#3a538b 360.0px,#3a538b 361.5px,#3a538b 363.0px,#3a538b 364.5px,#3b518b 366.0px,#424086 367.5px,#453581 369.0px,#453882 370.5px,#39568c 372.0px,#31688e 373.5px,#30698e 375.0px,#31688e 376.5px,#355f8d 378.0px,#38598c 379.5px,#38598c 381.0px,#38598c 382.5px,#38598c 384.0px,#38598c 385.5px,#38598c 387.0px,#38598c 388.5px,#38598c 390.0px,#38598c 391.5px,#3b528b 393.0px,#3f4889 394.5px,#3f4788 396.0px,#3f4788 397.5px,#3d4e8a 399.0px,#38588c 400.5px,#38598c 402.0px,#38598c 403.5px,#38598c 405.0px,#38598c 406.5px,#3a548c 408.0px,#3d4e8a 409.5px,#3d4d8a 411.0px,#3d4d8a 412.5px,#3d4d8a 414.0px,#3d4d8a 415.5px,#3d4d8a 417.0px,#3d4d8a 418.5px,#3d4d8a 420.0px,#3d4d8a 421.5px,#3d4d8a 423.0px,#3d4d8a 424.5px,#3d4d8a 426.0px,#3d4d8a 427.5px,#3d4d8a 429.0px,#3d4d8a 430.5px,#3d4d8a 432.0px,#3d4d8a 433.5px,#3c4f8a 435.0px,#39568c 436.5px,#38598c 438.0px,#38598c 439.5px,#38598c 441.0px,#38598c 442.5px,#38598c 444.0px,#38598c 445.5px,#38598c 447.0px,#38598c 448.5px,#39568c 450.0px,#39558c 451.5px,#39558c 453.0px,#39558c 454.5px,#39558c 456.0px,#39558c 457.5px,#39558c 459.0px,#375b8d 460.5px,#2e6f8e 462.0px,#2c728e 463.5px,#2f6b8e 465.0px,#365d8d 466.5px,#365c8d 468.0px,#365c8d 469.5px,#365c8d 471.0px,#365c8d 472.5px,#365c8d 474.0px,#375b8d 475.5px,#3a548c 477.0px,#3f4889 478.5px,#3e4989 480.0px,#375b8d 481.5px,#31668e 483.0px,#31668e 484.5px,#31668e 486.0px,#32648e 487.5px,#3e4c8a 489.0px,#443a83 490.5px,#443983 492.0px,#443983 493.5px,#443983 495.0px,#443983 496.5px,#443983 498.0px,#443983 499.5px,#443983 501.0px,#443983 502.5px,#443b84 504.0px,#3d4e8a 505.5px,#38598c 507.0px,#3a538b 508.5px,#423f85 510.0px,#443983 511.5px,#443983 513.0px,#443983 514.5px,#443983 516.0px,#443983 517.5px,#443983 519.0px,#443983 520.5px,#443983 522.0px,#424086 523.5px,#375b8d 525.0px,#34618d 526.5px,#375a8c 528.0px,#433e85 529.5px,#453781 531.0px,#453781 532.5px,#453781 534.0px,#453781 535.5px,#453781 537.0px,#453781 538.5px,#453781 540.0px,#453781 541.5px,#453781 543.0px,#453781 544.5px,#453781 546.0px,#443b84 547.5px,#3d4e8a 549.0px,#3b528b 550.5px,#414487 552.0px,#472a7a 553.5px,#482878 555.0px,#472d7b 556.5px,#365d8d 558.0px,#2a778e 559.5px,#2a788e 561.0px,#2a788e 562.5px,#2a788e 564.0px,#2a788e 565.5px,#2a788e 567.0px,#2a788e 568.5px,#2a788e 570.0px,#2a788e 571.5px,#2a768e 573.0px,#2d708e 574.5px,#2e6e8e 576.0px,#2e6e8e 577.5px,#2d708e 579.0px,#277e8e 580.5px,#24868e 582.0px,#24878e 583.5px,#24878e 585.0px,#24878e 586.5px,#24878e 588.0px,#24878e 589.5px,#24878e 591.0px,#24878e 592.5px,#24878e 594.0px,#24878e 595.5px,#24878e 597.0px,#24868e 598.5px,#277e8e 600.0px,#2a788e 601.5px,#2a788e 603.0px,#29798e 604.5px,#26828e 606.0px,#23898e 607.5px,#23898e 609.0px,#23898e 610.5px,#23898e 612.0px,#23898e 613.5px,#23898e 615.0px,#23898e 616.5px,#23898e 618.0px,#23898e 619.5px,#23898e 621.0px,#23898e 622.5px,#23898e 624.0px,#23898e 625.5px,#23898e 627.0px,#23898e 628.5px,#23898e 630.0px,#23898e 631.5px,#23898e 633.0px,#23898e 634.5px,#25848e 636.0px,#277e8e 637.5px,#287d8e 639.0px,#287d8e 640.5px,#26828e 642.0px,#228b8d 643.5px,#228c8d 645.0px,#25848e 646.5px,#29798e 648.0px,#2a788e 649.5px,#2a788e 651.0px,#2a788e 652.5px,#2a788e 654.0px,#2a788e 655.5px,#2a788e 657.0px,#2a788e 658.5px,#2a788e 660.0px,#2a788e 661.5px,#2a778e 663.0px,#2c738e 664.5px,#2c728e 666.0px,#2c728e 667.5px,#2c728e 669.0px,#2c728e 670.5px,#2c728e 672.0px,#2c728e 673.5px,#2c728e 675.0px,#2c728e 676.5px,#2e6f8e 678.0px,#2e6e8e 679.5px,#2e6f8e 681.0px,#297b8e 682.5px,#218f8d 684.0px,#21908d 685.5px,#24878e 687.0px,#26828e 688.5px,#26828e 690.0px,#26828e 691.5px,#26828e 693.0px,#26828e 694.5px,#26828e 696.0px,#26828e 697.5px,#26828e 699.0px,#228d8d 700.5px,#1f9e89 702.0px,#1fa088 703.5px,#1fa088 705.0px,#1fa088 706.5px,#1f9f88 708.0px,#20938c 709.5px,#228c8d 711.0px,#228c8d 712.5px,#228c8d 714.0px,#228c8d 715.5px,#228c8d 717.0px,#228c8d 718.5px,#228c8d 720.0px,#228c8d 721.5px,#228c8d 723.0px,#228c8d 724.5px,#1f978b 726.0px,#4ec36b 727.5px,#65cb5e 729.0px,#24aa83 730.5px,#2e6f8e 732.0px,#30698e 733.5px,#30698e 735.0px,#30698e 736.5px,#30698e 738.0px,#33638d 739.5px,#375a8c 741.0px,#38598c 742.5px,#38598c 744.0px,#38598c 745.5px,#375a8c 747.0px,#34618d 748.5px,#31668e 750.0px,#31668e 751.5px,#31668e 753.0px,#31668e 754.5px,#31668e 756.0px,#31668e 757.5px,#31668e 759.0px,#31668e 760.5px,#31668e 762.0px,#31668e 763.5px,#31668e 765.0px,#31668e 766.5px,#31668e 768.0px,#31668e 769.5px,#31668e 771.0px,#31668e 772.5px,#31668e 774.0px,#31668e 775.5px,#31668e 777.0px,#31668e 778.5px,#33638d 780.0px,#355f8d 781.5px,#355e8d 783.0px,#355e8d 784.5px,#355e8d 786.0px,#355e8d 787.5px,#355e8d 789.0px,#355e8d 790.5px,#355e8d 792.0px,#355e8d 793.5px,#355e8d 795.0px,#34618d 796.5px,#2f6b8e 798.0px,#2e6e8e 799.5px,#2e6e8e 801.0px,#2e6e8e 802.5px,#2e6e8e 804.0px,#2e6e8e 805.5px,#2e6e8e 807.0px,#2e6e8e 808.5px,#2e6e8e 810.0px,#2e6e8e 811.5px,#2e6e8e 813.0px,#2e6e8e 814.5px,#2c738e 816.0px,#24868e 817.5px,#228c8d 819.0px,#228b8d 820.5px,#297b8e 822.0px,#34618d 823.5px,#355e8d 825.0px,#355f8d 826.5px,#31688e 828.0px,#2e6e8e 829.5px,#2e6e8e 831.0px,#2e6e8e 832.5px,#2e6e8e 834.0px,#2e6e8e 835.5px,#2e6e8e 837.0px,#2e6e8e 838.5px,#2e6e8e 840.0px,#2e6e8e 841.5px,#2e6e8e 843.0px,#2e6e8e 844.5px,#2e6e8e 846.0px,#2e6e8e 847.5px,#2e6e8e 849.0px,#2e6e8e 850.5px,#2e6d8e 852.0px,#32648e 853.5px,#355f8d 855.0px,#355e8d 856.5px,#355e8d 858.0px,#355e8d 859.5px,#355e8d 861.0px,#355e8d 862.5px,#355e8d 864.0px,#355e8d 865.5px,#355e8d 867.0px,#355e8d 868.5px,#355e8d 870.0px,#355e8d 871.5px,#355e8d 873.0px,#355e8d 874.5px,#31688e 876.0px,#228d8d 877.5px,#1f958b 879.0px,#1f958b 880.5px,#228b8d 882.0px,#297a8e 883.5px,#2a788e 885.0px,#2a788e 886.5px,#2a788e 888.0px,#2a788e 889.5px,#2a788e 891.0px,#2a788e 892.5px,#2a788e 894.0px,#2a788e 895.5px,#2a788e 897.0px,#2a788e 898.5px,#2a788e 900.0px,#2a788e 901.5px,#2a788e 903.0px,#2a788e 904.5px,#2a788e 906.0px,#2a788e 907.5px)"></div>
<div class="yl" style="top:-0.1px">cg01890836</div><div class="yt" style="top:17.1px"></div>
<div class="yl" style="top:38.7px">cg14066298</div><div class="yt" style="top:55.9px"></div>
<div class="yl" style="top:77.6px">cg23063647</div><div class="yt" style="top:94.8px"></div>
<div class="yl" style="top:116.4px">cg12716639</div><div class="yt" style="top:133.6px"></div>
<div class="yl" style="top:155.2px">cg19743406</div><div class="yt" style="top:172.4px"></div>
<div class="yl" style="top:194.0px">cg26069068</div><div class="yt" style="top:211.2px"></div>
<div class="yl" style="top:232.9px">cg06550248</div><div class="yt" style="top:250.1px"></div>
<div class="yl" style="top:271.7px">cg05878887</div><div class="yt" style="top:288.9px"></div>
<div class="yl" style="top:310.5px">cg04749316</div><div class="yt" style="top:327.7px"></div>
<div class="yl" style="top:349.4px">cg13424302</div><div class="yt" style="top:366.6px"></div>
<div class="yl" style="top:388.2px">cg03837680</div><div class="yt" style="top:405.4px"></div>
<div class="yl" style="top:427.0px">cg16528895</div><div class="yt" style="top:444.2px"></div>
<div class="yl" style="top:465.9px">cg23347094</div><div class="yt" style="top:483.1px"></div>
<div class="yl" style="top:504.7px">cg03287339</div><div class="yt" style="top:521.9px"></div>
<div class="yl" style="top:543.5px">cg26412374</div><div class="yt" style="top:560.7px"></div>
<div class="yl" style="top:582.3px">cg11403708</div><div class="yt" style="top:599.5px"></div>
<div class="yl" style="top:621.2px">cg11554295</div><div class="yt" style="top:638.4px"></div>
<div class="yl" style="top:660.0px">cg10659811</div><div class="yt" style="top:677.2px"></div>
<div class="yl" style="top:698.8px">cg08091050</div><div class="yt" style="top:716.0px"></div>
<div class="yl" style="top:737.7px">cg01128574</div><div class="yt" style="top:754.9px"></div>
<div class="yl" style="top:776.5px">cg13703437</div><div class="yt" style="top:793.7px"></div>
<div class="yl" style="top:815.3px">cg26683398</div><div class="yt" style="top:832.5px"></div>
<div class="yl" style="top:854.2px">cg12426146</div><div class="yt" style="top:871.4px"></div>
<div class="yl" style="top:893.0px">cg11234447</div><div class="yt" style="top:910.2px"></div>
<div class="xt" style="left:344.1px"></div><div class="xl" style="left:285.8px;letter-spacing:2px">S1</div>
<div class="xt" style="left:506.2px"></div><div class="xl" style="left:447.9px;letter-spacing:2px">S4</div>
<div class="xt" style="left:668.4px"></div><div class="xl" style="left:610.1px;letter-spacing:2px">S2</div>
<div class="xt" style="left:830.6px"></div><div class="xl" style="left:772.3px;letter-spacing:2px">S3</div>
<div class="xt" style="left:992.7px"></div><div class="xl" style="left:934.0px">C3</div>
<div class="xt" style="left:1154.9px"></div><div class="xl" style="left:1096.2px">C2</div>
<div class="xt" style="left:1317.1px"></div><div class="xl" style="left:1258.4px">C1</div>
<div class="xt" style="left:1479.2px"></div><div class="xl" style="left:1420.5px">C4</div>
<div class="ul" style="left:323px;width:537px"></div>
<div class="ul" style="left:972px;width:537px"></div>
<div class="gl" style="left:425.5px;width:300px;letter-spacing:0.25px">NPC samples</div>
<div class="gl" style="left:1035px;width:400px;letter-spacing:1.4px">Healthy controls</div>
<div class="cb"></div>
<div class="ct" style="top:108.4px"></div><div class="cl" style="top:87.8px">0.8</div>
<div class="ct" style="top:190.2px"></div><div class="cl" style="top:170.0px">0.6</div>
<div class="ct" style="top:272.0px"></div><div class="cl" style="top:252.2px">0.4</div>
<div class="ct" style="top:353.8px"></div><div class="cl" style="top:334.4px">0.2</div>
</body></html>
